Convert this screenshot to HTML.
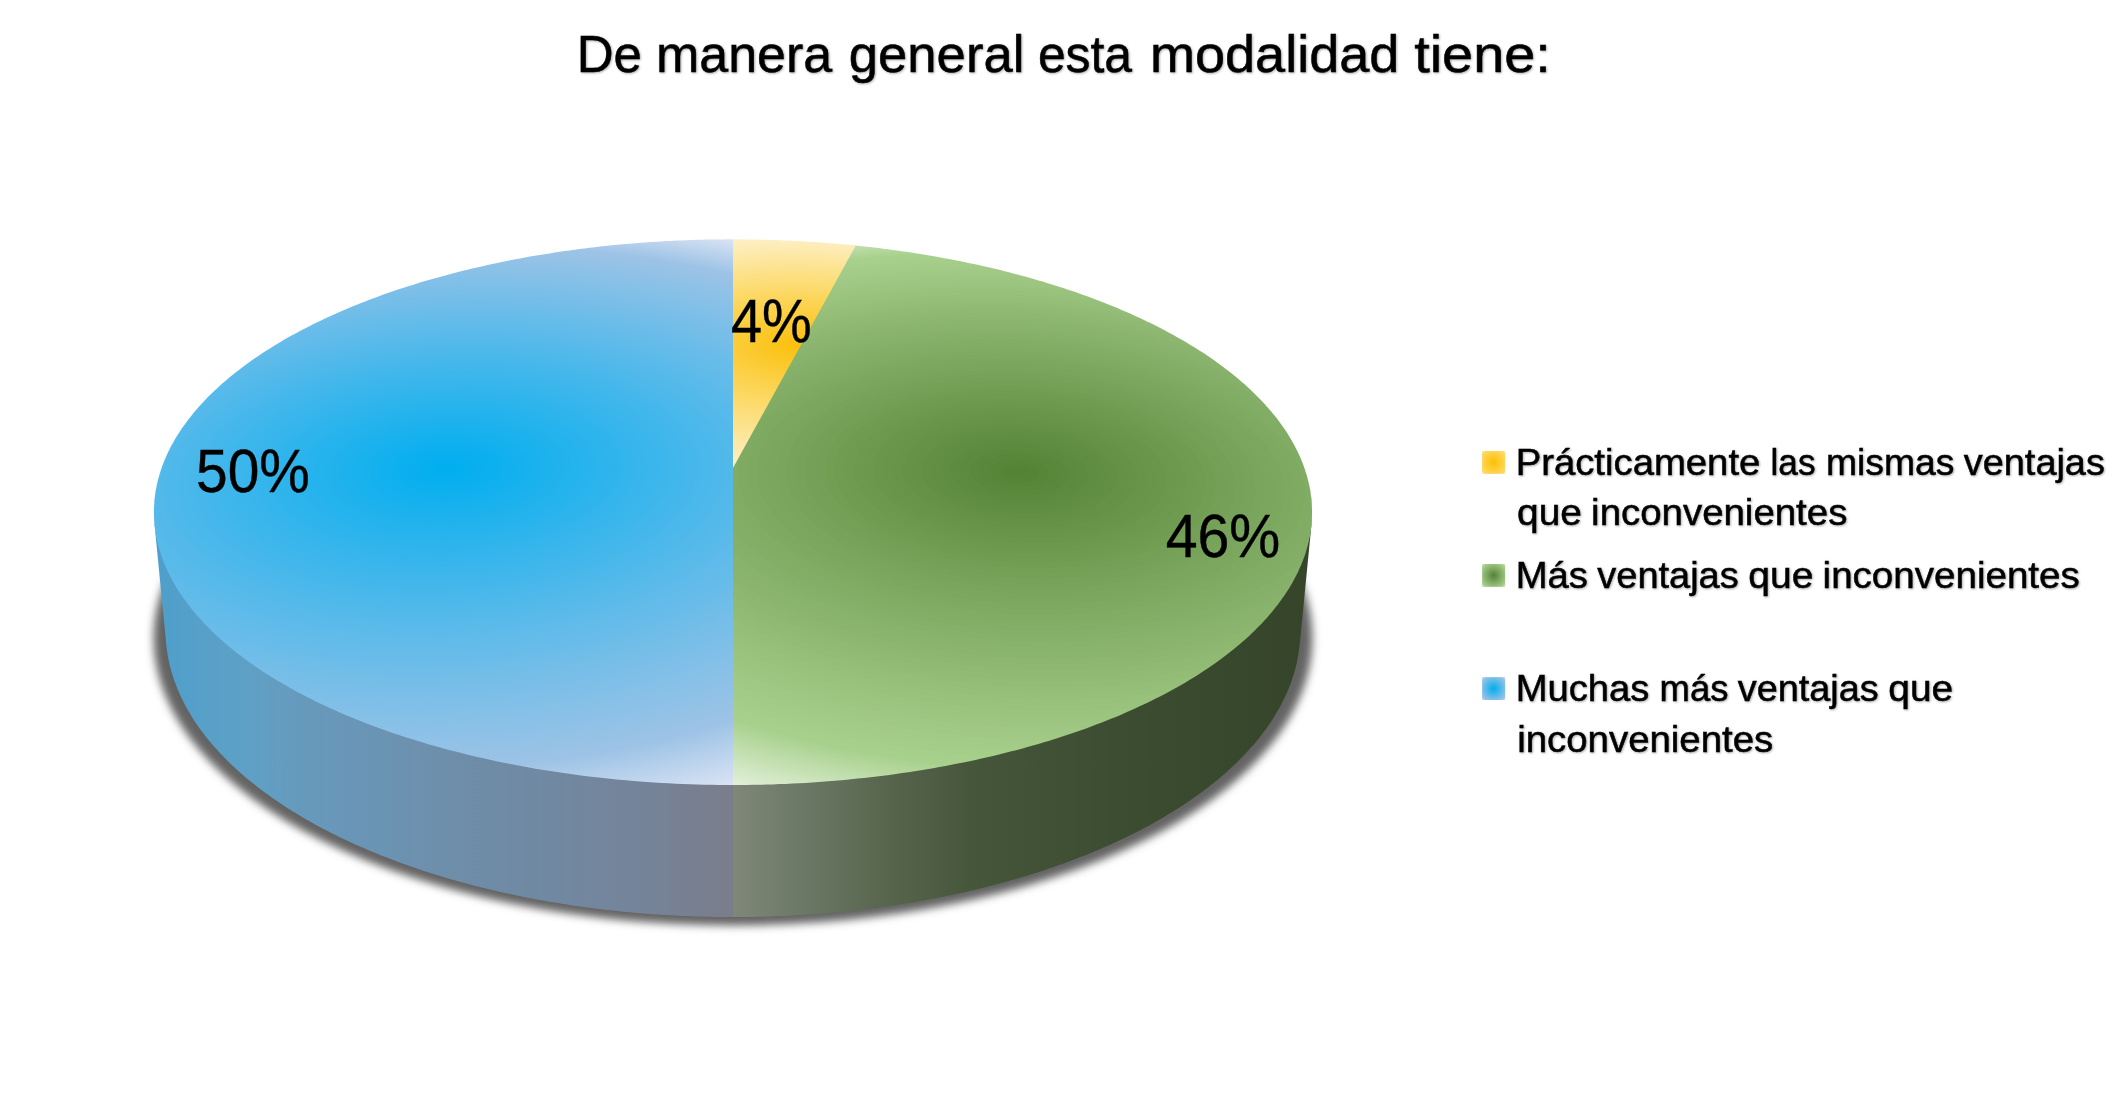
<!DOCTYPE html>
<html lang="es"><head><meta charset="utf-8"><title>De manera general esta modalidad tiene:</title>
<style>html,body{margin:0;padding:0;background:#fff}body{width:2127px;height:1111px;overflow:hidden}svg{display:block}</style>
</head><body>
<svg width="2127" height="1111" viewBox="0 0 2127 1111">
<defs>
<filter id="sb" x="-5%" y="-5%" width="110%" height="110%"><feGaussianBlur stdDeviation="4"/></filter>
<linearGradient id="bw" gradientUnits="userSpaceOnUse" x1="154" y1="0" x2="733" y2="0"><stop offset="0.0000" stop-color="#4d9fcc"/><stop offset="0.0794" stop-color="#56a0c9"/><stop offset="0.1658" stop-color="#5fa0c5"/><stop offset="0.2522" stop-color="#669abd"/><stop offset="0.3385" stop-color="#6996b7"/><stop offset="0.4249" stop-color="#6c92b1"/><stop offset="0.5112" stop-color="#6e8eaa"/><stop offset="0.5976" stop-color="#6f8ba6"/><stop offset="0.6839" stop-color="#7188a1"/><stop offset="0.7703" stop-color="#73869d"/><stop offset="0.8566" stop-color="#758398"/><stop offset="0.9430" stop-color="#787f8f"/><stop offset="1.0000" stop-color="#7a7e8b"/></linearGradient>
<linearGradient id="gw" gradientUnits="userSpaceOnUse" x1="733" y1="0" x2="1312" y2="0"><stop offset="0.0000" stop-color="#7f8878"/><stop offset="0.1313" stop-color="#6a7764"/><stop offset="0.2850" stop-color="#55634a"/><stop offset="0.4128" stop-color="#46563b"/><stop offset="0.5423" stop-color="#415136"/><stop offset="0.6960" stop-color="#3c4c31"/><stop offset="0.8584" stop-color="#38482c"/><stop offset="1.0000" stop-color="#36452a"/></linearGradient>
<mask id="hull" maskUnits="userSpaceOnUse" x="100" y="200" width="1300" height="760"><path fill="#fff" d="M166.4 645.4 L154.6 525.2 L154.4 522.7 L154.2 520.3 L154.1 517.9 L154 515.5 L154 513.1 L154 510.6 L154 508.2 L154.1 505.8 L154.3 503.4 L154.4 501 L154.7 498.6 L155 496.3 L155.3 493.9 L155.6 491.5 L156 489.1 L156.5 486.7 L157 484.4 L157.5 482 L158.1 479.7 L158.7 477.3 L159.4 475 L160.1 472.7 L160.8 470.3 L161.6 468 L162.4 465.7 L163.3 463.4 L164.2 461.1 L165.2 458.8 L166.1 456.5 L167.2 454.2 L168.2 451.9 L169.4 449.7 L170.5 447.4 L171.7 445.2 L172.9 442.9 L174.2 440.7 L175.5 438.5 L176.8 436.2 L178.2 434 L179.6 431.8 L181.1 429.6 L182.6 427.5 L184.1 425.3 L185.7 423.1 L187.3 421 L188.9 418.8 L190.6 416.7 L192.3 414.6 L194 412.4 L195.8 410.3 L197.6 408.2 L199.5 406.1 L201.3 404.1 L203.3 402 L205.2 399.9 L207.2 397.9 L209.2 395.9 L211.3 393.8 L213.3 391.8 L215.4 389.8 L217.6 387.8 L219.8 385.8 L222 383.9 L224.2 381.9 L226.5 379.9 L228.8 378 L231.1 376.1 L233.5 374.2 L235.9 372.3 L238.3 370.4 L240.8 368.5 L243.2 366.6 L245.7 364.7 L248.3 362.9 L250.9 361.1 L253.5 359.2 L256.1 357.4 L258.7 355.6 L261.4 353.8 L264.1 352.1 L266.8 350.3 L269.6 348.6 L272.4 346.8 L275.2 345.1 L278 343.4 L280.9 341.7 L283.8 340 L286.7 338.3 L289.6 336.7 L292.6 335 L295.6 333.4 L298.6 331.8 L301.6 330.1 L304.7 328.5 L307.8 327 L310.9 325.4 L314 323.8 L317.2 322.3 L320.3 320.8 L323.5 319.2 L326.7 317.7 L330 316.2 L333.2 314.8 L336.5 313.3 L339.8 311.9 L343.2 310.4 L346.5 309 L349.9 307.6 L353.2 306.2 L356.6 304.8 L360.1 303.4 L363.5 302.1 L367 300.7 L370.4 299.4 L373.9 298.1 L377.5 296.8 L381 295.5 L384.5 294.2 L388.1 293 L391.7 291.7 L395.3 290.5 L398.9 289.3 L402.6 288.1 L406.2 286.9 L409.9 285.7 L413.6 284.6 L417.3 283.4 L421 282.3 L424.7 281.2 L428.5 280.1 L432.2 279 L436 277.9 L439.8 276.9 L443.6 275.8 L447.4 274.8 L451.3 273.8 L455.1 272.8 L459 271.8 L462.9 270.8 L466.7 269.9 L470.6 268.9 L474.6 268 L478.5 267.1 L482.4 266.2 L486.4 265.3 L490.3 264.4 L494.3 263.6 L498.3 262.7 L502.3 261.9 L506.3 261.1 L510.3 260.3 L514.3 259.5 L518.4 258.7 L522.4 258 L526.5 257.3 L530.5 256.5 L534.6 255.8 L538.7 255.1 L542.8 254.5 L546.9 253.8 L551 253.1 L555.1 252.5 L559.2 251.9 L563.4 251.3 L567.5 250.7 L571.7 250.1 L575.8 249.6 L580 249 L584.2 248.5 L588.3 248 L592.5 247.5 L596.7 247 L600.9 246.5 L605.1 246 L609.3 245.6 L613.5 245.2 L617.7 244.8 L622 244.4 L626.2 244 L630.4 243.6 L634.7 243.3 L638.9 242.9 L643.2 242.6 L647.4 242.3 L651.7 242 L655.9 241.7 L660.2 241.5 L664.5 241.2 L668.7 241 L673 240.8 L677.3 240.6 L681.6 240.4 L685.8 240.2 L690.1 240.1 L694.4 239.9 L698.7 239.8 L703 239.7 L707.3 239.6 L711.5 239.5 L715.8 239.4 L720.1 239.4 L724.4 239.3 L728.7 239.3 L733 239.3 L737.3 239.3 L741.6 239.3 L745.9 239.4 L750.2 239.4 L754.5 239.5 L758.7 239.6 L763 239.7 L767.3 239.8 L771.6 239.9 L775.9 240.1 L780.2 240.2 L784.4 240.4 L788.7 240.6 L793 240.8 L797.3 241 L801.5 241.2 L805.8 241.5 L810.1 241.7 L814.3 242 L818.6 242.3 L822.8 242.6 L827.1 242.9 L831.3 243.3 L835.6 243.6 L839.8 244 L844 244.4 L848.3 244.8 L852.5 245.2 L856.7 245.6 L860.9 246 L865.1 246.5 L869.3 247 L873.5 247.5 L877.7 248 L881.8 248.5 L886 249 L890.2 249.6 L894.3 250.1 L898.5 250.7 L902.6 251.3 L906.8 251.9 L910.9 252.5 L915 253.1 L919.1 253.8 L923.2 254.5 L927.3 255.1 L931.4 255.8 L935.5 256.5 L939.5 257.3 L943.6 258 L947.6 258.7 L951.7 259.5 L955.7 260.3 L959.7 261.1 L963.7 261.9 L967.7 262.7 L971.7 263.6 L975.7 264.4 L979.6 265.3 L983.6 266.2 L987.5 267.1 L991.4 268 L995.4 268.9 L999.3 269.9 L1003.1 270.8 L1007 271.8 L1010.9 272.8 L1014.7 273.8 L1018.6 274.8 L1022.4 275.8 L1026.2 276.9 L1030 277.9 L1033.8 279 L1037.5 280.1 L1041.3 281.2 L1045 282.3 L1048.7 283.4 L1052.4 284.6 L1056.1 285.7 L1059.8 286.9 L1063.4 288.1 L1067.1 289.3 L1070.7 290.5 L1074.3 291.7 L1077.9 293 L1081.5 294.2 L1085 295.5 L1088.5 296.8 L1092.1 298.1 L1095.6 299.4 L1099 300.7 L1102.5 302.1 L1105.9 303.4 L1109.4 304.8 L1112.8 306.2 L1116.1 307.6 L1119.5 309 L1122.8 310.4 L1126.2 311.9 L1129.5 313.3 L1132.8 314.8 L1136 316.2 L1139.3 317.7 L1142.5 319.2 L1145.7 320.8 L1148.8 322.3 L1152 323.8 L1155.1 325.4 L1158.2 327 L1161.3 328.5 L1164.4 330.1 L1167.4 331.8 L1170.4 333.4 L1173.4 335 L1176.4 336.7 L1179.3 338.3 L1182.2 340 L1185.1 341.7 L1188 343.4 L1190.8 345.1 L1193.6 346.8 L1196.4 348.6 L1199.2 350.3 L1201.9 352.1 L1204.6 353.8 L1207.3 355.6 L1209.9 357.4 L1212.5 359.2 L1215.1 361.1 L1217.7 362.9 L1220.3 364.7 L1222.8 366.6 L1225.2 368.5 L1227.7 370.4 L1230.1 372.3 L1232.5 374.2 L1234.9 376.1 L1237.2 378 L1239.5 379.9 L1241.8 381.9 L1244 383.9 L1246.2 385.8 L1248.4 387.8 L1250.6 389.8 L1252.7 391.8 L1254.7 393.8 L1256.8 395.9 L1258.8 397.9 L1260.8 399.9 L1262.7 402 L1264.7 404.1 L1266.5 406.1 L1268.4 408.2 L1270.2 410.3 L1272 412.4 L1273.7 414.6 L1275.4 416.7 L1277.1 418.8 L1278.7 421 L1280.3 423.1 L1281.9 425.3 L1283.4 427.5 L1284.9 429.6 L1286.4 431.8 L1287.8 434 L1289.2 436.2 L1290.5 438.5 L1291.8 440.7 L1293.1 442.9 L1294.3 445.2 L1295.5 447.4 L1296.6 449.7 L1297.8 451.9 L1298.8 454.2 L1299.9 456.5 L1300.8 458.8 L1301.8 461.1 L1302.7 463.4 L1303.6 465.7 L1304.4 468 L1305.2 470.3 L1305.9 472.7 L1306.6 475 L1307.3 477.3 L1307.9 479.7 L1308.5 482 L1309 484.4 L1309.5 486.7 L1310 489.1 L1310.4 491.5 L1310.7 493.9 L1311 496.3 L1311.3 498.6 L1311.6 501 L1311.7 503.4 L1311.9 505.8 L1312 508.2 L1312 510.6 L1312 513.1 L1312 515.5 L1311.9 517.9 L1311.8 520.3 L1311.6 522.7 L1311.4 525.2 L1299.6 645.4 L1299.3 647.9 L1299 650.5 L1298.6 653 L1298.2 655.6 L1297.7 658.1 L1297.2 660.7 L1296.7 663.3 L1296.1 665.8 L1295.4 668.4 L1294.7 670.9 L1294 673.5 L1293.2 676.1 L1292.3 678.6 L1291.5 681.2 L1290.5 683.7 L1289.5 686.3 L1288.5 688.9 L1287.4 691.4 L1286.3 694 L1285.2 696.5 L1283.9 699.1 L1282.7 701.6 L1281.4 704.2 L1280 706.7 L1278.6 709.3 L1277.1 711.8 L1275.6 714.3 L1274.1 716.9 L1272.5 719.4 L1270.8 721.9 L1269.1 724.4 L1267.4 726.9 L1265.6 729.5 L1263.7 732 L1261.8 734.5 L1259.9 736.9 L1257.9 739.4 L1255.8 741.9 L1253.8 744.4 L1251.6 746.8 L1249.4 749.3 L1247.2 751.8 L1244.9 754.2 L1242.6 756.6 L1240.2 759.1 L1237.8 761.5 L1235.3 763.9 L1232.8 766.3 L1230.2 768.7 L1227.6 771.1 L1224.9 773.4 L1222.2 775.8 L1219.4 778.2 L1216.6 780.5 L1213.7 782.8 L1210.8 785.1 L1207.9 787.4 L1204.8 789.7 L1201.8 792 L1198.7 794.3 L1195.5 796.6 L1192.4 798.8 L1189.1 801 L1185.8 803.3 L1182.5 805.5 L1179.1 807.7 L1175.7 809.8 L1172.2 812 L1168.7 814.1 L1165.1 816.3 L1161.5 818.4 L1157.9 820.5 L1154.2 822.6 L1150.5 824.7 L1146.7 826.7 L1142.9 828.7 L1139 830.8 L1135.1 832.8 L1131.1 834.8 L1127.1 836.7 L1123.1 838.7 L1119 840.6 L1114.9 842.5 L1110.7 844.4 L1106.5 846.3 L1102.3 848.1 L1098 850 L1093.7 851.8 L1089.3 853.6 L1084.9 855.4 L1080.4 857.1 L1076 858.8 L1071.4 860.6 L1066.9 862.2 L1062.3 863.9 L1057.7 865.6 L1053 867.2 L1048.3 868.8 L1043.6 870.4 L1038.8 871.9 L1034 873.5 L1029.2 875 L1024.3 876.5 L1019.4 877.9 L1014.4 879.4 L1009.5 880.8 L1004.5 882.2 L999.4 883.5 L994.4 884.9 L989.3 886.2 L984.2 887.5 L979 888.8 L973.8 890 L968.6 891.2 L963.4 892.4 L958.1 893.6 L952.9 894.7 L947.5 895.8 L942.2 896.9 L936.8 898 L931.5 899 L926.1 900 L920.6 901 L915.2 901.9 L909.7 902.8 L904.2 903.7 L898.7 904.6 L893.2 905.4 L887.6 906.2 L882 907 L876.5 907.8 L870.8 908.5 L865.2 909.2 L859.6 909.9 L853.9 910.5 L848.3 911.1 L842.6 911.7 L836.9 912.2 L831.2 912.8 L825.5 913.3 L819.8 913.7 L814 914.2 L808.3 914.6 L802.5 914.9 L796.8 915.3 L791 915.6 L785.2 915.9 L779.4 916.1 L773.6 916.3 L767.8 916.5 L762 916.7 L756.2 916.8 L750.4 916.9 L744.6 917 L738.8 917.1 L733 917.1 L727.2 917.1 L721.4 917 L715.6 916.9 L709.8 916.8 L704 916.7 L698.2 916.5 L692.4 916.3 L686.6 916.1 L680.8 915.9 L675 915.6 L669.2 915.3 L663.5 914.9 L657.7 914.6 L652 914.2 L646.2 913.7 L640.5 913.3 L634.8 912.8 L629.1 912.2 L623.4 911.7 L617.7 911.1 L612.1 910.5 L606.4 909.9 L600.8 909.2 L595.2 908.5 L589.5 907.8 L584 907 L578.4 906.2 L572.8 905.4 L567.3 904.6 L561.8 903.7 L556.3 902.8 L550.8 901.9 L545.4 901 L539.9 900 L534.5 899 L529.2 898 L523.8 896.9 L518.5 895.8 L513.1 894.7 L507.9 893.6 L502.6 892.4 L497.4 891.2 L492.2 890 L487 888.8 L481.8 887.5 L476.7 886.2 L471.6 884.9 L466.6 883.5 L461.5 882.2 L456.5 880.8 L451.6 879.4 L446.6 877.9 L441.7 876.5 L436.8 875 L432 873.5 L427.2 871.9 L422.4 870.4 L417.7 868.8 L413 867.2 L408.3 865.6 L403.7 863.9 L399.1 862.2 L394.6 860.6 L390 858.8 L385.6 857.1 L381.1 855.4 L376.7 853.6 L372.3 851.8 L368 850 L363.7 848.1 L359.5 846.3 L355.3 844.4 L351.1 842.5 L347 840.6 L342.9 838.7 L338.9 836.7 L334.9 834.8 L330.9 832.8 L327 830.8 L323.1 828.7 L319.3 826.7 L315.5 824.7 L311.8 822.6 L308.1 820.5 L304.5 818.4 L300.9 816.3 L297.3 814.1 L293.8 812 L290.3 809.8 L286.9 807.7 L283.5 805.5 L280.2 803.3 L276.9 801 L273.6 798.8 L270.5 796.6 L267.3 794.3 L264.2 792 L261.2 789.7 L258.1 787.4 L255.2 785.1 L252.3 782.8 L249.4 780.5 L246.6 778.2 L243.8 775.8 L241.1 773.4 L238.4 771.1 L235.8 768.7 L233.2 766.3 L230.7 763.9 L228.2 761.5 L225.8 759.1 L223.4 756.6 L221.1 754.2 L218.8 751.8 L216.6 749.3 L214.4 746.8 L212.2 744.4 L210.2 741.9 L208.1 739.4 L206.1 736.9 L204.2 734.5 L202.3 732 L200.4 729.5 L198.6 726.9 L196.9 724.4 L195.2 721.9 L193.5 719.4 L191.9 716.9 L190.4 714.3 L188.9 711.8 L187.4 709.3 L186 706.7 L184.6 704.2 L183.3 701.6 L182.1 699.1 L180.8 696.5 L179.7 694 L178.6 691.4 L177.5 688.9 L176.5 686.3 L175.5 683.7 L174.5 681.2 L173.7 678.6 L172.8 676.1 L172 673.5 L171.3 670.9 L170.6 668.4 L169.9 665.8 L169.3 663.3 L168.8 660.7 L168.3 658.1 L167.8 655.6 L167.4 653 L167 650.5 L166.7 647.9Z"/><path fill="#000" d="M1304.4 465.5 L1303.6 463.2 L1302.7 460.9 L1301.8 458.6 L1300.8 456.3 L1299.9 454 L1298.8 451.7 L1297.8 449.4 L1296.6 447.2 L1295.5 444.9 L1294.3 442.7 L1293.1 440.4 L1291.8 438.2 L1290.5 436 L1289.2 433.7 L1287.8 431.5 L1286.4 429.3 L1284.9 427.1 L1283.4 425 L1281.9 422.8 L1280.3 420.6 L1278.7 418.5 L1277.1 416.3 L1275.4 414.2 L1273.7 412.1 L1272 409.9 L1270.2 407.8 L1268.4 405.7 L1266.5 403.6 L1264.7 401.6 L1262.7 399.5 L1260.8 397.4 L1258.8 395.4 L1256.8 393.4 L1254.7 391.3 L1252.7 389.3 L1250.6 387.3 L1248.4 385.3 L1246.2 383.3 L1244 381.4 L1241.8 379.4 L1239.5 377.4 L1237.2 375.5 L1234.9 373.6 L1232.5 371.7 L1230.1 369.8 L1227.7 367.9 L1225.2 366 L1222.8 364.1 L1220.3 362.2 L1217.7 360.4 L1215.1 358.6 L1212.5 356.7 L1209.9 354.9 L1207.3 353.1 L1204.6 351.3 L1201.9 349.6 L1199.2 347.8 L1196.4 346.1 L1193.6 344.3 L1190.8 342.6 L1188 340.9 L1185.1 339.2 L1182.2 337.5 L1179.3 335.8 L1176.4 334.2 L1173.4 332.5 L1170.4 330.9 L1167.4 329.3 L1164.4 327.6 L1161.3 326 L1158.2 324.5 L1155.1 322.9 L1152 321.3 L1148.8 319.8 L1145.7 318.3 L1142.5 316.7 L1139.3 315.2 L1136 313.7 L1132.8 312.3 L1129.5 310.8 L1126.2 309.4 L1122.8 307.9 L1119.5 306.5 L1116.1 305.1 L1112.8 303.7 L1109.4 302.3 L1105.9 300.9 L1102.5 299.6 L1099 298.2 L1095.6 296.9 L1092.1 295.6 L1088.5 294.3 L1085 293 L1081.5 291.7 L1077.9 290.5 L1074.3 289.2 L1070.7 288 L1067.1 286.8 L1063.4 285.6 L1059.8 284.4 L1056.1 283.2 L1052.4 282.1 L1048.7 280.9 L1045 279.8 L1041.3 278.7 L1037.5 277.6 L1033.8 276.5 L1030 275.4 L1026.2 274.4 L1022.4 273.3 L1018.6 272.3 L1014.7 271.3 L1010.9 270.3 L1007 269.3 L1003.1 268.3 L999.3 267.4 L995.4 266.4 L991.4 265.5 L987.5 264.6 L983.6 263.7 L979.6 262.8 L975.7 261.9 L971.7 261.1 L967.7 260.2 L963.7 259.4 L959.7 258.6 L955.7 257.8 L951.7 257 L947.6 256.2 L943.6 255.5 L939.5 254.8 L935.5 254 L931.4 253.3 L927.3 252.6 L923.2 252 L919.1 251.3 L915 250.6 L910.9 250 L906.8 249.4 L902.6 248.8 L898.5 248.2 L894.3 247.6 L890.2 247.1 L886 246.5 L881.8 246 L877.7 245.5 L873.5 245 L869.3 244.5 L865.1 244 L860.9 243.5 L856.7 243.1 L852.5 242.7 L848.3 242.3 L844 241.9 L839.8 241.5 L835.6 241.1 L831.3 240.8 L827.1 240.4 L822.8 240.1 L818.6 239.8 L814.3 239.5 L810.1 239.2 L805.8 239 L801.5 238.7 L797.3 238.5 L793 238.3 L788.7 238.1 L784.4 237.9 L780.2 237.7 L775.9 237.6 L771.6 237.4 L767.3 237.3 L763 237.2 L758.7 237.1 L754.5 237 L750.2 236.9 L745.9 236.9 L741.6 236.8 L737.3 236.8 L733 236.8 L728.7 236.8 L724.4 236.8 L720.1 236.9 L715.8 236.9 L711.5 237 L707.3 237.1 L703 237.2 L698.7 237.3 L694.4 237.4 L690.1 237.6 L685.8 237.7 L681.6 237.9 L677.3 238.1 L673 238.3 L668.7 238.5 L664.5 238.7 L660.2 239 L655.9 239.2 L651.7 239.5 L647.4 239.8 L643.2 240.1 L638.9 240.4 L634.7 240.8 L630.4 241.1 L626.2 241.5 L622 241.9 L617.7 242.3 L613.5 242.7 L609.3 243.1 L605.1 243.5 L600.9 244 L596.7 244.5 L592.5 245 L588.3 245.5 L584.2 246 L580 246.5 L575.8 247.1 L571.7 247.6 L567.5 248.2 L563.4 248.8 L559.2 249.4 L555.1 250 L551 250.6 L546.9 251.3 L542.8 252 L538.7 252.6 L534.6 253.3 L530.5 254 L526.5 254.8 L522.4 255.5 L518.4 256.2 L514.3 257 L510.3 257.8 L506.3 258.6 L502.3 259.4 L498.3 260.2 L494.3 261.1 L490.3 261.9 L486.4 262.8 L482.4 263.7 L478.5 264.6 L474.6 265.5 L470.6 266.4 L466.7 267.4 L462.9 268.3 L459 269.3 L455.1 270.3 L451.3 271.3 L447.4 272.3 L443.6 273.3 L439.8 274.4 L436 275.4 L432.2 276.5 L428.5 277.6 L424.7 278.7 L421 279.8 L417.3 280.9 L413.6 282.1 L409.9 283.2 L406.2 284.4 L402.6 285.6 L398.9 286.8 L395.3 288 L391.7 289.2 L388.1 290.5 L384.5 291.7 L381 293 L377.5 294.3 L373.9 295.6 L370.4 296.9 L367 298.2 L363.5 299.6 L360.1 300.9 L356.6 302.3 L353.2 303.7 L349.9 305.1 L346.5 306.5 L343.2 307.9 L339.8 309.4 L336.5 310.8 L333.2 312.3 L330 313.7 L326.7 315.2 L323.5 316.7 L320.3 318.3 L317.2 319.8 L314 321.3 L310.9 322.9 L307.8 324.5 L304.7 326 L301.6 327.6 L298.6 329.3 L295.6 330.9 L292.6 332.5 L289.6 334.2 L286.7 335.8 L283.8 337.5 L280.9 339.2 L278 340.9 L275.2 342.6 L272.4 344.3 L269.6 346.1 L266.8 347.8 L264.1 349.6 L261.4 351.3 L258.7 353.1 L256.1 354.9 L253.5 356.7 L250.9 358.6 L248.3 360.4 L245.7 362.2 L243.2 364.1 L240.8 366 L238.3 367.9 L235.9 369.8 L233.5 371.7 L231.1 373.6 L228.8 375.5 L226.5 377.4 L224.2 379.4 L222 381.4 L219.8 383.3 L217.6 385.3 L215.4 387.3 L213.3 389.3 L211.3 391.3 L209.2 393.4 L207.2 395.4 L205.2 397.4 L203.3 399.5 L201.3 401.6 L199.5 403.6 L197.6 405.7 L195.8 407.8 L194 409.9 L192.3 412.1 L190.6 414.2 L188.9 416.3 L187.3 418.5 L185.7 420.6 L184.1 422.8 L182.6 425 L181.1 427.1 L179.6 429.3 L178.2 431.5 L176.8 433.7 L175.5 436 L174.2 438.2 L172.9 440.4 L171.7 442.7 L170.5 444.9 L169.4 447.2 L168.2 449.4 L167.2 451.7 L166.1 454 L165.2 456.3 L164.2 458.6 L163.3 460.9 L162.4 463.2 L161.6 465.5 L160.8 467.8 L160.1 470.2 L159.4 472.5 L158.7 474.8 L158.1 477.2 L157.5 479.5 L157 481.9 L156.5 484.2 L156 486.6 L155.6 489 L155.3 491.4 L155 493.8 L154.7 496.1 L154.4 498.5 L154.3 500.9 L154.1 503.3 L154 505.7 L154 508.1 L154 510.6 L154 513 L154.1 515.4 L154.2 517.8 L154.4 520.2 L154.6 522.7 L154.9 525.1 L155.2 527.5 L155.6 530 L156 532.4 L156.4 534.8 L156.9 537.3 L157.5 539.7 L158.1 542.2 L158.7 544.6 L159.4 547 L160.2 549.5 L161 551.9 L161.8 554.4 L162.7 556.8 L163.6 559.3 L164.6 561.7 L165.6 564.1 L166.7 566.6 L167.8 569 L169 571.5 L170.2 573.9 L171.5 576.3 L172.8 578.8 L174.2 581.2 L175.6 583.6 L177.1 586 L178.6 588.5 L180.2 590.9 L181.8 593.3 L183.5 595.7 L185.2 598.1 L187 600.5 L188.8 602.9 L190.7 605.3 L192.6 607.7 L194.6 610 L196.6 612.4 L198.7 614.8 L200.8 617.2 L203 619.5 L205.2 621.9 L207.5 624.2 L209.8 626.5 L212.2 628.9 L214.6 631.2 L217 633.5 L219.6 635.8 L222.1 638.1 L224.8 640.4 L227.4 642.7 L230.1 644.9 L232.9 647.2 L235.7 649.4 L238.6 651.7 L241.5 653.9 L244.5 656.1 L247.5 658.3 L250.5 660.5 L253.6 662.7 L256.8 664.9 L260 667 L263.3 669.2 L266.6 671.3 L269.9 673.4 L273.3 675.6 L276.7 677.7 L280.2 679.7 L283.8 681.8 L287.4 683.9 L291 685.9 L294.7 687.9 L298.4 689.9 L302.2 691.9 L306 693.9 L309.8 695.9 L313.7 697.8 L317.7 699.8 L321.7 701.7 L325.7 703.6 L329.8 705.5 L333.9 707.3 L338.1 709.2 L342.3 711 L346.5 712.8 L350.8 714.6 L355.2 716.4 L359.5 718.2 L364 719.9 L368.4 721.6 L372.9 723.3 L377.5 725 L382 726.7 L386.7 728.3 L391.3 729.9 L396 731.5 L400.7 733.1 L405.5 734.7 L410.3 736.2 L415.1 737.7 L420 739.2 L424.9 740.7 L429.9 742.1 L434.9 743.6 L439.9 745 L444.9 746.3 L450 747.7 L455.1 749 L460.3 750.3 L465.4 751.6 L470.7 752.9 L475.9 754.1 L481.2 755.3 L486.5 756.5 L491.8 757.7 L497.1 758.8 L502.5 760 L507.9 761 L513.4 762.1 L518.8 763.2 L524.3 764.2 L529.8 765.2 L535.3 766.1 L540.9 767.1 L546.5 768 L552.1 768.8 L557.7 769.7 L563.4 770.5 L569 771.3 L574.7 772.1 L580.4 772.9 L586.1 773.6 L591.9 774.3 L597.6 774.9 L603.4 775.6 L609.2 776.2 L615 776.8 L620.8 777.3 L626.6 777.9 L632.4 778.4 L638.3 778.8 L644.2 779.3 L650 779.7 L655.9 780.1 L661.8 780.4 L667.7 780.8 L673.6 781.1 L679.5 781.3 L685.5 781.6 L691.4 781.8 L697.3 782 L703.3 782.1 L709.2 782.3 L715.2 782.4 L721.1 782.4 L727.1 782.5 L733 782.5 L738.9 782.5 L744.9 782.4 L750.8 782.4 L756.8 782.3 L762.7 782.1 L768.7 782 L774.6 781.8 L780.5 781.6 L786.5 781.3 L792.4 781.1 L798.3 780.8 L804.2 780.4 L810.1 780.1 L816 779.7 L821.8 779.3 L827.7 778.8 L833.6 778.4 L839.4 777.9 L845.2 777.3 L851 776.8 L856.8 776.2 L862.6 775.6 L868.4 774.9 L874.1 774.3 L879.9 773.6 L885.6 772.9 L891.3 772.1 L897 771.3 L902.6 770.5 L908.3 769.7 L913.9 768.8 L919.5 768 L925.1 767.1 L930.7 766.1 L936.2 765.2 L941.7 764.2 L947.2 763.2 L952.6 762.1 L958.1 761 L963.5 760 L968.9 758.8 L974.2 757.7 L979.5 756.5 L984.8 755.3 L990.1 754.1 L995.3 752.9 L1000.6 751.6 L1005.7 750.3 L1010.9 749 L1016 747.7 L1021.1 746.3 L1026.1 745 L1031.1 743.6 L1036.1 742.1 L1041.1 740.7 L1046 739.2 L1050.9 737.7 L1055.7 736.2 L1060.5 734.7 L1065.3 733.1 L1070 731.5 L1074.7 729.9 L1079.3 728.3 L1084 726.7 L1088.5 725 L1093.1 723.3 L1097.6 721.6 L1102 719.9 L1106.5 718.2 L1110.8 716.4 L1115.2 714.6 L1119.5 712.8 L1123.7 711 L1127.9 709.2 L1132.1 707.3 L1136.2 705.5 L1140.3 703.6 L1144.3 701.7 L1148.3 699.8 L1152.3 697.8 L1156.2 695.9 L1160 693.9 L1163.8 691.9 L1167.6 689.9 L1171.3 687.9 L1175 685.9 L1178.6 683.9 L1182.2 681.8 L1185.8 679.7 L1189.3 677.7 L1192.7 675.6 L1196.1 673.4 L1199.4 671.3 L1202.7 669.2 L1206 667 L1209.2 664.9 L1212.4 662.7 L1215.5 660.5 L1218.5 658.3 L1221.5 656.1 L1224.5 653.9 L1227.4 651.7 L1230.3 649.4 L1233.1 647.2 L1235.9 644.9 L1238.6 642.7 L1241.2 640.4 L1243.9 638.1 L1246.4 635.8 L1249 633.5 L1251.4 631.2 L1253.8 628.9 L1256.2 626.5 L1258.5 624.2 L1260.8 621.9 L1263 619.5 L1265.2 617.2 L1267.3 614.8 L1269.4 612.4 L1271.4 610 L1273.4 607.7 L1275.3 605.3 L1277.2 602.9 L1279 600.5 L1280.8 598.1 L1282.5 595.7 L1284.2 593.3 L1285.8 590.9 L1287.4 588.5 L1288.9 586 L1290.4 583.6 L1291.8 581.2 L1293.2 578.8 L1294.5 576.3 L1295.8 573.9 L1297 571.5 L1298.2 569 L1299.3 566.6 L1300.4 564.1 L1301.4 561.7 L1302.4 559.3 L1303.3 556.8 L1304.2 554.4 L1305 551.9 L1305.8 549.5 L1306.6 547 L1307.3 544.6 L1307.9 542.2 L1308.5 539.7 L1309.1 537.3 L1309.6 534.8 L1310 532.4 L1310.4 530 L1310.8 527.5 L1311.1 525.1 L1311.4 522.7 L1311.6 520.2 L1311.8 517.8 L1311.9 515.4 L1312 513 L1312 510.6 L1312 508.1 L1312 505.7 L1311.9 503.3 L1311.7 500.9 L1311.6 498.5 L1311.3 496.1 L1311 493.8 L1310.7 491.4 L1310.4 489 L1310 486.6 L1309.5 484.2 L1309 481.9 L1308.5 479.5 L1307.9 477.2 L1307.3 474.8 L1306.6 472.5 L1305.9 470.2 L1305.2 467.8 L1304.4 465.5Z"/></mask>
<mask id="cy" maskUnits="userSpaceOnUse" x="100" y="200" width="1300" height="640"><path fill="#fff" d="M733 468 L733 239.3 L737.3 239.3 L741.5 239.3 L745.8 239.4 L750 239.4 L754.3 239.5 L758.6 239.6 L762.8 239.7 L767.1 239.8 L771.3 239.9 L775.6 240 L779.8 240.2 L784.1 240.4 L788.3 240.6 L792.6 240.8 L796.8 241 L801.1 241.2 L805.3 241.4 L809.5 241.7 L813.8 242 L818 242.3 L822.2 242.6 L826.4 242.9 L830.7 243.2 L834.9 243.6 L839.1 243.9 L843.3 244.3 L847.5 244.7 L851.7 245.1 L855.8 245.5Z"/></mask>
<mask id="cg" maskUnits="userSpaceOnUse" x="100" y="200" width="1300" height="640"><path fill="#fff" d="M732 468 L850.8 245 L855.5 245.5 L860.2 246 L864.8 246.5 L869.5 247 L874.2 247.5 L878.8 248.1 L883.4 248.7 L888.1 249.3 L892.7 249.9 L897.3 250.5 L901.9 251.2 L906.5 251.8 L911.1 252.5 L915.7 253.2 L920.3 254 L924.8 254.7 L929.4 255.5 L933.9 256.3 L938.4 257.1 L942.9 257.9 L947.4 258.7 L951.9 259.6 L956.4 260.4 L960.8 261.3 L965.3 262.2 L969.7 263.2 L974.1 264.1 L978.6 265.1 L982.9 266 L987.3 267 L991.7 268.1 L996 269.1 L1000.4 270.1 L1004.7 271.2 L1009 272.3 L1013.3 273.4 L1017.5 274.5 L1021.8 275.7 L1026 276.8 L1030.2 278 L1034.4 279.2 L1038.6 280.4 L1042.8 281.6 L1046.9 282.9 L1051 284.2 L1055.1 285.4 L1059.2 286.7 L1063.3 288.1 L1067.3 289.4 L1071.4 290.7 L1075.4 292.1 L1079.3 293.5 L1083.3 294.9 L1087.2 296.3 L1091.2 297.8 L1095 299.2 L1098.9 300.7 L1102.8 302.2 L1106.6 303.7 L1110.4 305.2 L1114.2 306.8 L1117.9 308.3 L1121.6 309.9 L1125.3 311.5 L1129 313.1 L1132.7 314.7 L1136.3 316.4 L1139.9 318 L1143.5 319.7 L1147 321.4 L1150.5 323.1 L1154 324.8 L1157.5 326.6 L1160.9 328.3 L1164.3 330.1 L1167.7 331.9 L1171 333.7 L1174.3 335.5 L1177.6 337.4 L1180.9 339.2 L1184.1 341.1 L1187.3 343 L1190.4 344.9 L1193.6 346.8 L1196.7 348.7 L1199.7 350.7 L1202.8 352.6 L1205.8 354.6 L1208.7 356.6 L1211.6 358.6 L1214.5 360.6 L1217.4 362.7 L1220.2 364.7 L1223 366.8 L1225.8 368.9 L1228.5 371 L1231.2 373.1 L1233.8 375.2 L1236.4 377.3 L1239 379.5 L1241.5 381.7 L1244 383.8 L1246.5 386 L1248.9 388.2 L1251.3 390.5 L1253.6 392.7 L1255.9 394.9 L1258.1 397.2 L1260.4 399.5 L1262.5 401.8 L1264.7 404.1 L1266.7 406.4 L1268.8 408.7 L1270.8 411 L1272.8 413.4 L1274.7 415.7 L1276.6 418.1 L1278.4 420.5 L1280.2 422.9 L1281.9 425.3 L1283.6 427.7 L1285.3 430.1 L1286.9 432.6 L1288.4 435 L1289.9 437.5 L1291.4 440 L1292.8 442.4 L1294.2 444.9 L1295.5 447.4 L1296.8 449.9 L1298 452.5 L1299.2 455 L1300.3 457.5 L1301.4 460.1 L1302.4 462.6 L1303.4 465.2 L1304.3 467.8 L1305.2 470.4 L1306 472.9 L1306.8 475.5 L1307.5 478.1 L1308.2 480.8 L1308.8 483.4 L1309.4 486 L1309.9 488.6 L1310.3 491.3 L1310.7 493.9 L1311.1 496.6 L1311.4 499.2 L1311.6 501.9 L1311.8 504.6 L1311.9 507.2 L1312 509.9 L1312 512.6 L1312 515.3 L1311.9 518 L1311.8 520.6 L1311.5 523.3 L1311.3 526 L1311 528.7 L1310.6 531.5 L1310.1 534.2 L1309.7 536.9 L1309.1 539.6 L1308.5 542.3 L1307.8 545 L1307.1 547.7 L1306.3 550.4 L1305.5 553.2 L1304.6 555.9 L1303.6 558.6 L1302.6 561.3 L1301.5 564 L1300.3 566.7 L1299.1 569.4 L1297.9 572.2 L1296.5 574.9 L1295.1 577.6 L1293.7 580.3 L1292.2 583 L1290.6 585.7 L1289 588.4 L1287.3 591.1 L1285.5 593.7 L1283.7 596.4 L1281.8 599.1 L1279.9 601.8 L1277.9 604.4 L1275.8 607.1 L1273.7 609.7 L1271.5 612.4 L1269.3 615 L1267 617.7 L1264.6 620.3 L1262.2 622.9 L1259.7 625.5 L1257.1 628.1 L1254.5 630.7 L1251.8 633.3 L1249.1 635.9 L1246.3 638.4 L1243.4 641 L1240.5 643.5 L1237.5 646 L1234.5 648.6 L1231.4 651.1 L1228.2 653.6 L1225 656 L1221.7 658.5 L1218.3 661 L1214.9 663.4 L1211.5 665.8 L1207.9 668.2 L1204.4 670.6 L1200.7 673 L1197 675.4 L1193.2 677.7 L1189.4 680.1 L1185.5 682.4 L1181.6 684.7 L1177.6 687 L1173.5 689.2 L1169.4 691.5 L1165.3 693.7 L1161 695.9 L1156.8 698.1 L1152.4 700.3 L1148 702.4 L1143.6 704.5 L1139.1 706.6 L1134.5 708.7 L1129.9 710.8 L1125.3 712.8 L1120.6 714.9 L1115.8 716.9 L1111 718.8 L1106.1 720.8 L1101.2 722.7 L1096.2 724.6 L1091.2 726.5 L1086.2 728.4 L1081 730.2 L1075.9 732 L1070.7 733.8 L1065.4 735.6 L1060.1 737.3 L1054.8 739 L1049.4 740.7 L1043.9 742.3 L1038.5 743.9 L1032.9 745.5 L1027.4 747.1 L1021.8 748.7 L1016.1 750.2 L1010.4 751.6 L1004.7 753.1 L999 754.5 L993.1 755.9 L987.3 757.3 L981.4 758.6 L975.5 759.9 L969.6 761.2 L963.6 762.4 L957.6 763.6 L951.5 764.8 L945.5 766 L939.4 767.1 L933.2 768.2 L927 769.2 L920.9 770.2 L914.6 771.2 L908.4 772.2 L902.1 773.1 L895.8 774 L889.5 774.9 L883.1 775.7 L876.8 776.5 L870.4 777.2 L864 777.9 L857.5 778.6 L851.1 779.3 L844.6 779.9 L838.2 780.5 L831.7 781 L825.1 781.5 L818.6 782 L812.1 782.4 L805.5 782.9 L799 783.2 L792.4 783.6 L785.8 783.9 L779.2 784.1 L772.6 784.4 L766 784.6 L759.4 784.7 L752.8 784.8 L746.2 784.9 L739.6 785 L733 785 L732 785Z"/></mask>
<mask id="cb" maskUnits="userSpaceOnUse" x="100" y="200" width="1300" height="640"><path fill="#fff" d="M733 239.3 L727.8 239.3 L722.7 239.4 L717.5 239.4 L712.3 239.5 L707.2 239.6 L702 239.7 L696.8 239.8 L691.7 240 L686.5 240.2 L681.4 240.4 L676.2 240.6 L671.1 240.9 L665.9 241.1 L660.8 241.4 L655.7 241.8 L650.5 242.1 L645.4 242.4 L640.3 242.8 L635.2 243.2 L630.1 243.7 L625 244.1 L619.9 244.6 L614.8 245.1 L609.7 245.6 L604.7 246.1 L599.6 246.6 L594.6 247.2 L589.5 247.8 L584.5 248.4 L579.5 249.1 L574.5 249.7 L569.5 250.4 L564.5 251.1 L559.5 251.8 L554.5 252.6 L549.6 253.4 L544.6 254.2 L539.7 255 L534.8 255.8 L529.9 256.6 L525 257.5 L520.1 258.4 L515.2 259.3 L510.4 260.3 L505.6 261.2 L500.7 262.2 L495.9 263.2 L491.2 264.2 L486.4 265.3 L481.6 266.4 L476.9 267.4 L472.2 268.6 L467.5 269.7 L462.8 270.8 L458.1 272 L453.5 273.2 L448.9 274.4 L444.3 275.7 L439.7 276.9 L435.1 278.2 L430.6 279.5 L426 280.8 L421.5 282.1 L417.1 283.5 L412.6 284.9 L408.2 286.3 L403.8 287.7 L399.4 289.1 L395 290.6 L390.7 292.1 L386.4 293.6 L382.1 295.1 L377.8 296.7 L373.6 298.2 L369.4 299.8 L365.2 301.4 L361.1 303 L356.9 304.7 L352.8 306.3 L348.8 308 L344.7 309.7 L340.7 311.5 L336.7 313.2 L332.8 315 L328.9 316.8 L325 318.6 L321.1 320.4 L317.3 322.2 L313.5 324.1 L309.8 326 L306 327.9 L302.3 329.8 L298.7 331.7 L295.1 333.7 L291.5 335.6 L287.9 337.6 L284.4 339.6 L280.9 341.7 L277.5 343.7 L274.1 345.8 L270.7 347.9 L267.4 350 L264.1 352.1 L260.8 354.2 L257.6 356.4 L254.4 358.6 L251.3 360.8 L248.2 363 L245.1 365.2 L242.1 367.4 L239.2 369.7 L236.2 372 L233.4 374.3 L230.5 376.6 L227.7 378.9 L225 381.2 L222.3 383.6 L219.6 386 L217 388.4 L214.4 390.8 L211.9 393.2 L209.4 395.6 L207 398.1 L204.6 400.5 L202.3 403 L200 405.5 L197.8 408 L195.6 410.6 L193.5 413.1 L191.4 415.7 L189.4 418.2 L187.4 420.8 L185.5 423.4 L183.6 426 L181.8 428.6 L180 431.3 L178.3 433.9 L176.6 436.6 L175 439.3 L173.5 441.9 L172 444.6 L170.5 447.3 L169.2 450.1 L167.8 452.8 L166.6 455.5 L165.4 458.3 L164.2 461.1 L163.1 463.8 L162.1 466.6 L161.1 469.4 L160.2 472.2 L159.4 475 L158.6 477.8 L157.8 480.7 L157.2 483.5 L156.6 486.3 L156 489.2 L155.5 492 L155.1 494.9 L154.8 497.8 L154.5 500.7 L154.3 503.5 L154.1 506.4 L154 509.3 L154 512.2 L154 515.1 L154.1 518.1 L154.3 521 L154.5 523.9 L154.8 526.8 L155.2 529.8 L155.6 532.7 L156.1 535.6 L156.7 538.6 L157.3 541.5 L158 544.4 L158.8 547.4 L159.7 550.3 L160.6 553.3 L161.6 556.2 L162.6 559.1 L163.7 562.1 L164.9 565 L166.2 568 L167.5 570.9 L169 573.8 L170.4 576.8 L172 579.7 L173.6 582.6 L175.3 585.5 L177.1 588.5 L178.9 591.4 L180.8 594.3 L182.8 597.2 L184.9 600.1 L187 603 L189.2 605.8 L191.4 608.7 L193.8 611.6 L196.2 614.5 L198.7 617.3 L201.3 620.1 L203.9 623 L206.6 625.8 L209.4 628.6 L212.2 631.4 L215.1 634.2 L218.1 637 L221.2 639.8 L224.3 642.5 L227.5 645.3 L230.8 648 L234.2 650.7 L237.6 653.4 L241.1 656.1 L244.7 658.8 L248.3 661.4 L252 664.1 L255.8 666.7 L259.6 669.3 L263.5 671.9 L267.5 674.4 L271.6 677 L275.7 679.5 L279.9 682 L284.2 684.5 L288.5 687 L292.9 689.5 L297.3 691.9 L301.9 694.3 L306.5 696.7 L311.1 699 L315.8 701.4 L320.6 703.7 L325.5 706 L330.4 708.3 L335.4 710.5 L340.4 712.7 L345.5 714.9 L350.7 717.1 L355.9 719.2 L361.2 721.3 L366.5 723.4 L371.9 725.5 L377.4 727.5 L382.9 729.5 L388.5 731.4 L394.1 733.4 L399.8 735.3 L405.5 737.2 L411.3 739 L417.1 740.8 L423 742.6 L429 744.4 L435 746.1 L441 747.8 L447.1 749.4 L453.3 751 L459.4 752.6 L465.7 754.2 L471.9 755.7 L478.3 757.2 L484.6 758.6 L491 760 L497.5 761.4 L504 762.8 L510.5 764.1 L517 765.3 L523.6 766.5 L530.3 767.7 L536.9 768.9 L543.6 770 L550.4 771.1 L557.1 772.1 L563.9 773.1 L570.8 774.1 L577.6 775 L584.5 775.9 L591.4 776.7 L598.3 777.5 L605.3 778.3 L612.2 779 L619.2 779.7 L626.3 780.3 L633.3 780.9 L640.3 781.5 L647.4 782 L654.5 782.5 L661.6 782.9 L668.7 783.3 L675.8 783.7 L682.9 784 L690.1 784.3 L697.2 784.5 L704.4 784.7 L711.5 784.8 L718.7 784.9 L725.8 785 L733 785Z"/></mask>
<filter id="ts" x="-5%" y="-30%" width="110%" height="160%"><feDropShadow dx="0.9" dy="0.9" stdDeviation="0.9" flood-color="#000" flood-opacity="0.34"/></filter>
<radialGradient id="sy" cx="0.5" cy="0.5" r="0.7071"><stop offset="0" stop-color="#fcc000"/><stop offset="0.86" stop-color="#ffd966"/><stop offset="1" stop-color="#fff2cc"/></radialGradient>
<radialGradient id="sg" cx="0.5" cy="0.5" r="0.7071"><stop offset="0" stop-color="#548235"/><stop offset="0.86" stop-color="#a9d18e"/><stop offset="1" stop-color="#e2f0d9"/></radialGradient>
<radialGradient id="sbl" cx="0.5" cy="0.5" r="0.7071"><stop offset="0" stop-color="#00aeef"/><stop offset="0.86" stop-color="#9dc3e6"/><stop offset="1" stop-color="#dae3f3"/></radialGradient>
</defs>
<ellipse cx="733" cy="638" rx="579.5" ry="287.5" fill="#646464" filter="url(#sb)"/>
<g mask="url(#hull)"><rect x="100" y="200" width="633" height="760" fill="url(#bw)"/><rect x="733" y="200" width="640" height="760" fill="url(#gw)"/></g>
<g mask="url(#cg)">
<rect x="100" y="200" width="1300" height="640" fill="#e1f0d8"/>
<ellipse cx="1028.9" cy="526.4" rx="643.7" ry="302.3" fill="#e0efd7" transform="rotate(2.85 1028.9 526.4)"/>
<ellipse cx="1028.8" cy="526.1" rx="641.7" ry="301.4" fill="#dfeed5" transform="rotate(2.85 1028.8 526.1)"/>
<ellipse cx="1028.7" cy="525.7" rx="639.7" ry="300.4" fill="#deeed3" transform="rotate(2.85 1028.7 525.7)"/>
<ellipse cx="1028.7" cy="525.4" rx="637.7" ry="299.4" fill="#ddedd2" transform="rotate(2.85 1028.7 525.4)"/>
<ellipse cx="1028.6" cy="525.1" rx="635.7" ry="298.5" fill="#dbecd0" transform="rotate(2.85 1028.6 525.1)"/>
<ellipse cx="1028.6" cy="524.8" rx="633.7" ry="297.5" fill="#daeccf" transform="rotate(2.85 1028.6 524.8)"/>
<ellipse cx="1028.5" cy="524.4" rx="631.7" ry="296.6" fill="#d9ebcd" transform="rotate(2.85 1028.5 524.4)"/>
<ellipse cx="1028.5" cy="524.1" rx="629.8" ry="295.6" fill="#d8eacb" transform="rotate(2.85 1028.5 524.1)"/>
<ellipse cx="1028.4" cy="523.8" rx="627.8" ry="294.6" fill="#d6eaca" transform="rotate(2.85 1028.4 523.8)"/>
<ellipse cx="1028.3" cy="523.4" rx="625.8" ry="293.7" fill="#d5e9c8" transform="rotate(2.85 1028.3 523.4)"/>
<ellipse cx="1028.3" cy="523.1" rx="623.8" ry="292.7" fill="#d4e8c7" transform="rotate(2.84 1028.3 523.1)"/>
<ellipse cx="1028.2" cy="522.8" rx="621.8" ry="291.8" fill="#d3e8c5" transform="rotate(2.84 1028.2 522.8)"/>
<ellipse cx="1028.2" cy="522.5" rx="619.8" ry="290.8" fill="#d2e7c3" transform="rotate(2.84 1028.2 522.5)"/>
<ellipse cx="1028.1" cy="522.2" rx="617.9" ry="289.9" fill="#d0e6c2" transform="rotate(2.84 1028.1 522.2)"/>
<ellipse cx="1028.1" cy="521.8" rx="615.9" ry="288.9" fill="#cfe6c0" transform="rotate(2.84 1028.1 521.8)"/>
<ellipse cx="1028" cy="521.5" rx="613.9" ry="287.9" fill="#cee5bf" transform="rotate(2.84 1028 521.5)"/>
<ellipse cx="1028" cy="521.2" rx="611.9" ry="287" fill="#cde4bd" transform="rotate(2.84 1028 521.2)"/>
<ellipse cx="1027.9" cy="520.9" rx="610" ry="286" fill="#cce4bb" transform="rotate(2.84 1027.9 520.9)"/>
<ellipse cx="1027.8" cy="520.6" rx="608" ry="285.1" fill="#cae3ba" transform="rotate(2.84 1027.8 520.6)"/>
<ellipse cx="1027.8" cy="520.3" rx="606" ry="284.1" fill="#c9e2b8" transform="rotate(2.84 1027.8 520.3)"/>
<ellipse cx="1027.7" cy="519.9" rx="604" ry="283.2" fill="#c8e2b7" transform="rotate(2.84 1027.7 519.9)"/>
<ellipse cx="1027.7" cy="519.6" rx="602.1" ry="282.2" fill="#c7e1b5" transform="rotate(2.84 1027.7 519.6)"/>
<ellipse cx="1027.6" cy="519.3" rx="600.1" ry="281.3" fill="#c5e0b3" transform="rotate(2.84 1027.6 519.3)"/>
<ellipse cx="1027.6" cy="519" rx="598.1" ry="280.3" fill="#c4e0b2" transform="rotate(2.84 1027.6 519)"/>
<ellipse cx="1027.5" cy="518.7" rx="596.1" ry="279.4" fill="#c3dfb0" transform="rotate(2.84 1027.5 518.7)"/>
<ellipse cx="1027.5" cy="518.4" rx="594.2" ry="278.4" fill="#c2dfaf" transform="rotate(2.83 1027.5 518.4)"/>
<ellipse cx="1027.4" cy="518.1" rx="592.2" ry="277.5" fill="#c1dead" transform="rotate(2.83 1027.4 518.1)"/>
<ellipse cx="1027.4" cy="517.8" rx="590.2" ry="276.5" fill="#bfddac" transform="rotate(2.83 1027.4 517.8)"/>
<ellipse cx="1027.3" cy="517.5" rx="588.2" ry="275.6" fill="#beddaa" transform="rotate(2.83 1027.3 517.5)"/>
<ellipse cx="1027.3" cy="517.2" rx="586.3" ry="274.6" fill="#bddca8" transform="rotate(2.83 1027.3 517.2)"/>
<ellipse cx="1027.2" cy="516.9" rx="584.3" ry="273.7" fill="#bcdba7" transform="rotate(2.83 1027.2 516.9)"/>
<ellipse cx="1027.2" cy="516.6" rx="582.3" ry="272.7" fill="#bbdba5" transform="rotate(2.83 1027.2 516.6)"/>
<ellipse cx="1027.1" cy="516.3" rx="580.4" ry="271.8" fill="#b9daa4" transform="rotate(2.83 1027.1 516.3)"/>
<ellipse cx="1027" cy="516" rx="578.4" ry="270.9" fill="#b8d9a2" transform="rotate(2.83 1027 516)"/>
<ellipse cx="1027" cy="515.7" rx="576.4" ry="269.9" fill="#b7d9a0" transform="rotate(2.83 1027 515.7)"/>
<ellipse cx="1026.9" cy="515.4" rx="574.5" ry="269" fill="#b6d89f" transform="rotate(2.83 1026.9 515.4)"/>
<ellipse cx="1026.9" cy="515.1" rx="572.5" ry="268" fill="#b5d79d" transform="rotate(2.83 1026.9 515.1)"/>
<ellipse cx="1026.8" cy="514.8" rx="570.5" ry="267.1" fill="#b3d79c" transform="rotate(2.83 1026.8 514.8)"/>
<ellipse cx="1026.8" cy="514.5" rx="568.6" ry="266.1" fill="#b2d69a" transform="rotate(2.83 1026.8 514.5)"/>
<ellipse cx="1026.7" cy="514.2" rx="566.6" ry="265.2" fill="#b1d598" transform="rotate(2.83 1026.7 514.2)"/>
<ellipse cx="1026.7" cy="513.9" rx="564.6" ry="264.2" fill="#b0d597" transform="rotate(2.83 1026.7 513.9)"/>
<ellipse cx="1026.6" cy="513.6" rx="562.7" ry="263.3" fill="#aed495" transform="rotate(2.82 1026.6 513.6)"/>
<ellipse cx="1026.6" cy="513.3" rx="560.7" ry="262.4" fill="#add394" transform="rotate(2.82 1026.6 513.3)"/>
<ellipse cx="1026.5" cy="513" rx="558.7" ry="261.4" fill="#acd392" transform="rotate(2.82 1026.5 513)"/>
<ellipse cx="1026.5" cy="512.8" rx="556.8" ry="260.5" fill="#abd290" transform="rotate(2.82 1026.5 512.8)"/>
<ellipse cx="1026.4" cy="512.5" rx="554.8" ry="259.5" fill="#aad18f" transform="rotate(2.82 1026.4 512.5)"/>
<ellipse cx="1026.4" cy="512.2" rx="552.8" ry="258.6" fill="#a8d08d" transform="rotate(2.82 1026.4 512.2)"/>
<ellipse cx="1026.1" cy="510.7" rx="542.7" ry="253.8" fill="#a7cf8c" transform="rotate(2.82 1026.1 510.7)"/>
<ellipse cx="1025.9" cy="509.3" rx="532.6" ry="248.9" fill="#a5cd8a" transform="rotate(2.82 1025.9 509.3)"/>
<ellipse cx="1025.6" cy="507.9" rx="522.6" ry="244.1" fill="#a4cc88" transform="rotate(2.81 1025.6 507.9)"/>
<ellipse cx="1025.4" cy="506.6" rx="512.5" ry="239.3" fill="#a2cb87" transform="rotate(2.81 1025.4 506.6)"/>
<ellipse cx="1025.2" cy="505.2" rx="502.4" ry="234.5" fill="#a1c985" transform="rotate(2.81 1025.2 505.2)"/>
<ellipse cx="1025" cy="503.9" rx="492.4" ry="229.8" fill="#9fc884" transform="rotate(2.80 1025 503.9)"/>
<ellipse cx="1024.7" cy="502.6" rx="482.3" ry="225" fill="#9ec682" transform="rotate(2.80 1024.7 502.6)"/>
<ellipse cx="1024.5" cy="501.4" rx="472.3" ry="220.2" fill="#9cc580" transform="rotate(2.80 1024.5 501.4)"/>
<ellipse cx="1024.3" cy="500.2" rx="462.3" ry="215.5" fill="#9bc47f" transform="rotate(2.80 1024.3 500.2)"/>
<ellipse cx="1024.1" cy="499" rx="452.3" ry="210.8" fill="#99c27d" transform="rotate(2.79 1024.1 499)"/>
<ellipse cx="1023.9" cy="497.8" rx="442.3" ry="206" fill="#98c17c" transform="rotate(2.79 1023.9 497.8)"/>
<ellipse cx="1023.7" cy="496.7" rx="432.3" ry="201.3" fill="#96bf7a" transform="rotate(2.79 1023.7 496.7)"/>
<ellipse cx="1023.5" cy="495.5" rx="422.4" ry="196.6" fill="#95be79" transform="rotate(2.79 1023.5 495.5)"/>
<ellipse cx="1023.3" cy="494.5" rx="412.4" ry="191.9" fill="#93bd77" transform="rotate(2.78 1023.3 494.5)"/>
<ellipse cx="1023.1" cy="493.4" rx="402.5" ry="187.2" fill="#91bb75" transform="rotate(2.78 1023.1 493.4)"/>
<ellipse cx="1022.9" cy="492.4" rx="392.5" ry="182.6" fill="#90ba74" transform="rotate(2.78 1022.9 492.4)"/>
<ellipse cx="1022.8" cy="491.3" rx="382.6" ry="177.9" fill="#8eb872" transform="rotate(2.78 1022.8 491.3)"/>
<ellipse cx="1022.6" cy="490.4" rx="372.7" ry="173.2" fill="#8db771" transform="rotate(2.78 1022.6 490.4)"/>
<ellipse cx="1022.4" cy="489.4" rx="362.8" ry="168.6" fill="#8bb56f" transform="rotate(2.77 1022.4 489.4)"/>
<ellipse cx="1022.3" cy="488.5" rx="352.9" ry="163.9" fill="#8ab46d" transform="rotate(2.77 1022.3 488.5)"/>
<ellipse cx="1022.1" cy="487.6" rx="343" ry="159.3" fill="#88b36c" transform="rotate(2.77 1022.1 487.6)"/>
<ellipse cx="1022" cy="486.7" rx="333.1" ry="154.6" fill="#87b16a" transform="rotate(2.77 1022 486.7)"/>
<ellipse cx="1021.8" cy="485.9" rx="323.2" ry="150" fill="#85b069" transform="rotate(2.77 1021.8 485.9)"/>
<ellipse cx="1021.7" cy="485" rx="313.3" ry="145.4" fill="#84ae67" transform="rotate(2.76 1021.7 485)"/>
<ellipse cx="1021.5" cy="484.2" rx="303.5" ry="140.8" fill="#82ad65" transform="rotate(2.76 1021.5 484.2)"/>
<ellipse cx="1021.4" cy="483.5" rx="293.6" ry="136.2" fill="#81ac64" transform="rotate(2.76 1021.4 483.5)"/>
<ellipse cx="1021.3" cy="482.7" rx="283.8" ry="131.6" fill="#7faa62" transform="rotate(2.76 1021.3 482.7)"/>
<ellipse cx="1021.1" cy="482" rx="273.9" ry="127" fill="#7ea961" transform="rotate(2.76 1021.1 482)"/>
<ellipse cx="1021" cy="481.3" rx="264.1" ry="122.4" fill="#7ca75f" transform="rotate(2.76 1021 481.3)"/>
<ellipse cx="1020.9" cy="480.6" rx="254.2" ry="117.8" fill="#7ba65e" transform="rotate(2.75 1020.9 480.6)"/>
<ellipse cx="1020.8" cy="480" rx="244.4" ry="113.3" fill="#79a55c" transform="rotate(2.75 1020.8 480)"/>
<ellipse cx="1020.7" cy="479.4" rx="234.6" ry="108.7" fill="#78a35a" transform="rotate(2.75 1020.7 479.4)"/>
<ellipse cx="1020.6" cy="478.8" rx="224.8" ry="104.1" fill="#76a259" transform="rotate(2.75 1020.6 478.8)"/>
<ellipse cx="1020.5" cy="478.2" rx="215" ry="99.6" fill="#75a057" transform="rotate(2.75 1020.5 478.2)"/>
<ellipse cx="1020.4" cy="477.7" rx="205.2" ry="95" fill="#739f56" transform="rotate(2.75 1020.4 477.7)"/>
<ellipse cx="1020.3" cy="477.2" rx="195.4" ry="90.5" fill="#729e54" transform="rotate(2.75 1020.3 477.2)"/>
<ellipse cx="1020.2" cy="476.7" rx="185.6" ry="85.9" fill="#709c52" transform="rotate(2.75 1020.2 476.7)"/>
<ellipse cx="1020.1" cy="476.2" rx="175.8" ry="81.4" fill="#6f9b51" transform="rotate(2.75 1020.1 476.2)"/>
<ellipse cx="1020.1" cy="475.8" rx="166" ry="76.8" fill="#6d994f" transform="rotate(2.74 1020.1 475.8)"/>
<ellipse cx="1020" cy="475.4" rx="156.2" ry="72.3" fill="#6c984e" transform="rotate(2.74 1020 475.4)"/>
<ellipse cx="1019.9" cy="475" rx="146.4" ry="67.7" fill="#6a964c" transform="rotate(2.74 1019.9 475)"/>
<ellipse cx="1019.9" cy="474.6" rx="136.6" ry="63.2" fill="#68954a" transform="rotate(2.74 1019.9 474.6)"/>
<ellipse cx="1019.8" cy="474.3" rx="126.9" ry="58.7" fill="#679449" transform="rotate(2.74 1019.8 474.3)"/>
<ellipse cx="1019.7" cy="474" rx="117.1" ry="54.2" fill="#659247" transform="rotate(2.74 1019.7 474)"/>
<ellipse cx="1019.7" cy="473.7" rx="107.3" ry="49.6" fill="#649146" transform="rotate(2.74 1019.7 473.7)"/>
<ellipse cx="1019.6" cy="473.4" rx="97.6" ry="45.1" fill="#628f44" transform="rotate(2.74 1019.6 473.4)"/>
<ellipse cx="1019.6" cy="473.2" rx="87.8" ry="40.6" fill="#618e43" transform="rotate(2.74 1019.6 473.2)"/>
<ellipse cx="1019.6" cy="473" rx="78" ry="36.1" fill="#5f8d41" transform="rotate(2.74 1019.6 473)"/>
<ellipse cx="1019.5" cy="472.8" rx="68.3" ry="31.6" fill="#5e8b3f" transform="rotate(2.74 1019.5 472.8)"/>
<ellipse cx="1019.5" cy="472.6" rx="58.5" ry="27.1" fill="#5c8a3e" transform="rotate(2.74 1019.5 472.6)"/>
<ellipse cx="1019.5" cy="472.5" rx="48.8" ry="22.5" fill="#5b883c" transform="rotate(2.74 1019.5 472.5)"/>
<ellipse cx="1019.5" cy="472.4" rx="39" ry="18" fill="#59873b" transform="rotate(2.74 1019.5 472.4)"/>
<ellipse cx="1019.4" cy="472.3" rx="29.3" ry="13.5" fill="#588639" transform="rotate(2.74 1019.4 472.3)"/>
<ellipse cx="1019.4" cy="472.2" rx="19.5" ry="9" fill="#568437" transform="rotate(2.74 1019.4 472.2)"/>
<ellipse cx="1019.4" cy="472.2" rx="9.8" ry="4.5" fill="#558336" transform="rotate(2.74 1019.4 472.2)"/>
</g>
<g mask="url(#cb)">
<rect x="100" y="200" width="1300" height="640" fill="#d9e3f3"/>
<ellipse cx="437.7" cy="523.2" rx="650" ry="304.6" fill="#d8e2f2" transform="rotate(-2.84 437.7 523.2)"/>
<ellipse cx="437.8" cy="522.7" rx="647.5" ry="303.4" fill="#d6e1f2" transform="rotate(-2.83 437.8 522.7)"/>
<ellipse cx="437.8" cy="522.3" rx="645.1" ry="302.3" fill="#d5e0f2" transform="rotate(-2.83 437.8 522.3)"/>
<ellipse cx="437.9" cy="521.9" rx="642.7" ry="301.1" fill="#d3dff2" transform="rotate(-2.83 437.9 521.9)"/>
<ellipse cx="438" cy="521.5" rx="640.3" ry="299.9" fill="#d1def1" transform="rotate(-2.83 438 521.5)"/>
<ellipse cx="438.1" cy="521.1" rx="637.9" ry="298.8" fill="#d0def1" transform="rotate(-2.83 438.1 521.1)"/>
<ellipse cx="438.1" cy="520.7" rx="635.5" ry="297.6" fill="#ceddf0" transform="rotate(-2.83 438.1 520.7)"/>
<ellipse cx="438.2" cy="520.3" rx="633" ry="296.4" fill="#cddcf0" transform="rotate(-2.83 438.2 520.3)"/>
<ellipse cx="438.3" cy="519.9" rx="630.6" ry="295.3" fill="#cbdbf0" transform="rotate(-2.83 438.3 519.9)"/>
<ellipse cx="438.3" cy="519.5" rx="628.2" ry="294.1" fill="#cadaf0" transform="rotate(-2.83 438.3 519.5)"/>
<ellipse cx="438.4" cy="519.1" rx="625.8" ry="293" fill="#c8daef" transform="rotate(-2.83 438.4 519.1)"/>
<ellipse cx="438.5" cy="518.7" rx="623.4" ry="291.8" fill="#c6d9ef" transform="rotate(-2.83 438.5 518.7)"/>
<ellipse cx="438.5" cy="518.3" rx="621" ry="290.6" fill="#c5d8ee" transform="rotate(-2.83 438.5 518.3)"/>
<ellipse cx="438.6" cy="518" rx="618.6" ry="289.5" fill="#c3d7ee" transform="rotate(-2.82 438.6 518)"/>
<ellipse cx="438.7" cy="517.6" rx="616.2" ry="288.3" fill="#c2d6ee" transform="rotate(-2.82 438.7 517.6)"/>
<ellipse cx="438.7" cy="517.2" rx="613.7" ry="287.1" fill="#c0d5ee" transform="rotate(-2.82 438.7 517.2)"/>
<ellipse cx="438.8" cy="516.8" rx="611.3" ry="286" fill="#bfd5ed" transform="rotate(-2.82 438.8 516.8)"/>
<ellipse cx="438.9" cy="516.4" rx="608.9" ry="284.8" fill="#bdd4ed" transform="rotate(-2.82 438.9 516.4)"/>
<ellipse cx="438.9" cy="516" rx="606.5" ry="283.7" fill="#bbd3ec" transform="rotate(-2.82 438.9 516)"/>
<ellipse cx="439" cy="515.7" rx="604.1" ry="282.5" fill="#bad2ec" transform="rotate(-2.82 439 515.7)"/>
<ellipse cx="439.1" cy="515.3" rx="601.7" ry="281.4" fill="#b8d1ec" transform="rotate(-2.82 439.1 515.3)"/>
<ellipse cx="439.1" cy="514.9" rx="599.3" ry="280.2" fill="#b7d1ec" transform="rotate(-2.82 439.1 514.9)"/>
<ellipse cx="439.2" cy="514.5" rx="596.9" ry="279.1" fill="#b5d0eb" transform="rotate(-2.82 439.2 514.5)"/>
<ellipse cx="439.3" cy="514.1" rx="594.5" ry="277.9" fill="#b4cfeb" transform="rotate(-2.82 439.3 514.1)"/>
<ellipse cx="439.3" cy="513.8" rx="592.1" ry="276.8" fill="#b2ceea" transform="rotate(-2.82 439.3 513.8)"/>
<ellipse cx="439.4" cy="513.4" rx="589.7" ry="275.6" fill="#b1cdea" transform="rotate(-2.81 439.4 513.4)"/>
<ellipse cx="439.5" cy="513" rx="587.3" ry="274.4" fill="#afccea" transform="rotate(-2.81 439.5 513)"/>
<ellipse cx="439.5" cy="512.7" rx="584.9" ry="273.3" fill="#adccea" transform="rotate(-2.81 439.5 512.7)"/>
<ellipse cx="439.6" cy="512.3" rx="582.5" ry="272.1" fill="#accbe9" transform="rotate(-2.81 439.6 512.3)"/>
<ellipse cx="439.7" cy="511.9" rx="580.1" ry="271" fill="#aacae9" transform="rotate(-2.81 439.7 511.9)"/>
<ellipse cx="439.7" cy="511.6" rx="577.7" ry="269.9" fill="#a9c9e8" transform="rotate(-2.81 439.7 511.6)"/>
<ellipse cx="439.8" cy="511.2" rx="575.3" ry="268.7" fill="#a7c8e8" transform="rotate(-2.81 439.8 511.2)"/>
<ellipse cx="439.8" cy="510.9" rx="572.9" ry="267.6" fill="#a6c8e8" transform="rotate(-2.81 439.8 510.9)"/>
<ellipse cx="439.9" cy="510.5" rx="570.5" ry="266.4" fill="#a4c7e8" transform="rotate(-2.81 439.9 510.5)"/>
<ellipse cx="440" cy="510.1" rx="568.1" ry="265.3" fill="#a2c6e7" transform="rotate(-2.81 440 510.1)"/>
<ellipse cx="440" cy="509.8" rx="565.7" ry="264.1" fill="#a1c5e7" transform="rotate(-2.81 440 509.8)"/>
<ellipse cx="440.1" cy="509.4" rx="563.3" ry="263" fill="#9fc4e6" transform="rotate(-2.81 440.1 509.4)"/>
<ellipse cx="440.1" cy="509.1" rx="561" ry="261.8" fill="#9ec3e6" transform="rotate(-2.81 440.1 509.1)"/>
<ellipse cx="440.2" cy="508.7" rx="558.6" ry="260.7" fill="#9cc3e6" transform="rotate(-2.81 440.2 508.7)"/>
<ellipse cx="440.4" cy="507.9" rx="552.8" ry="257.9" fill="#9bc3e6" transform="rotate(-2.80 440.4 507.9)"/>
<ellipse cx="440.5" cy="507.1" rx="547" ry="255.2" fill="#99c2e6" transform="rotate(-2.80 440.5 507.1)"/>
<ellipse cx="440.6" cy="506.3" rx="541.2" ry="252.4" fill="#97c2e6" transform="rotate(-2.80 440.6 506.3)"/>
<ellipse cx="440.8" cy="505.4" rx="535.5" ry="249.7" fill="#96c2e6" transform="rotate(-2.80 440.8 505.4)"/>
<ellipse cx="440.9" cy="504.6" rx="529.7" ry="246.9" fill="#94c2e6" transform="rotate(-2.80 440.9 504.6)"/>
<ellipse cx="441.1" cy="503.8" rx="523.9" ry="244.2" fill="#93c2e7" transform="rotate(-2.79 441.1 503.8)"/>
<ellipse cx="441.2" cy="503.1" rx="518.2" ry="241.4" fill="#91c1e7" transform="rotate(-2.79 441.2 503.1)"/>
<ellipse cx="441.3" cy="502.3" rx="512.4" ry="238.7" fill="#90c1e7" transform="rotate(-2.79 441.3 502.3)"/>
<ellipse cx="441.5" cy="501.5" rx="506.7" ry="236" fill="#8ec1e7" transform="rotate(-2.79 441.5 501.5)"/>
<ellipse cx="441.6" cy="500.8" rx="500.9" ry="233.3" fill="#8cc1e7" transform="rotate(-2.79 441.6 500.8)"/>
<ellipse cx="441.7" cy="500" rx="495.2" ry="230.5" fill="#8bc1e7" transform="rotate(-2.79 441.7 500)"/>
<ellipse cx="441.9" cy="499.3" rx="489.5" ry="227.8" fill="#89c0e7" transform="rotate(-2.79 441.9 499.3)"/>
<ellipse cx="442" cy="498.6" rx="483.7" ry="225.1" fill="#88c0e7" transform="rotate(-2.78 442 498.6)"/>
<ellipse cx="442.1" cy="497.8" rx="478" ry="222.4" fill="#86c0e7" transform="rotate(-2.78 442.1 497.8)"/>
<ellipse cx="442.2" cy="497.1" rx="472.3" ry="219.7" fill="#84c0e7" transform="rotate(-2.78 442.2 497.1)"/>
<ellipse cx="442.4" cy="496.4" rx="466.6" ry="217" fill="#83c0e8" transform="rotate(-2.78 442.4 496.4)"/>
<ellipse cx="442.5" cy="495.7" rx="460.8" ry="214.3" fill="#81bfe8" transform="rotate(-2.78 442.5 495.7)"/>
<ellipse cx="442.6" cy="495.1" rx="455.1" ry="211.6" fill="#80bfe8" transform="rotate(-2.78 442.6 495.1)"/>
<ellipse cx="442.7" cy="494.4" rx="449.4" ry="208.9" fill="#7ebfe8" transform="rotate(-2.77 442.7 494.4)"/>
<ellipse cx="442.8" cy="493.7" rx="443.7" ry="206.2" fill="#7cbfe8" transform="rotate(-2.77 442.8 493.7)"/>
<ellipse cx="442.9" cy="493.1" rx="438" ry="203.5" fill="#7bbee8" transform="rotate(-2.77 442.9 493.1)"/>
<ellipse cx="443.1" cy="492.4" rx="432.3" ry="200.8" fill="#79bee8" transform="rotate(-2.77 443.1 492.4)"/>
<ellipse cx="443.2" cy="491.8" rx="426.6" ry="198.1" fill="#78bee8" transform="rotate(-2.77 443.2 491.8)"/>
<ellipse cx="443.3" cy="491.1" rx="420.9" ry="195.4" fill="#76bee8" transform="rotate(-2.77 443.3 491.1)"/>
<ellipse cx="443.4" cy="490.5" rx="415.2" ry="192.8" fill="#75bee8" transform="rotate(-2.77 443.4 490.5)"/>
<ellipse cx="443.5" cy="489.9" rx="409.5" ry="190.1" fill="#73bde8" transform="rotate(-2.77 443.5 489.9)"/>
<ellipse cx="443.6" cy="489.3" rx="403.9" ry="187.4" fill="#71bde8" transform="rotate(-2.76 443.6 489.3)"/>
<ellipse cx="443.7" cy="488.7" rx="398.2" ry="184.7" fill="#70bde9" transform="rotate(-2.76 443.7 488.7)"/>
<ellipse cx="443.8" cy="488.1" rx="392.5" ry="182.1" fill="#6ebde9" transform="rotate(-2.76 443.8 488.1)"/>
<ellipse cx="443.9" cy="487.5" rx="386.8" ry="179.4" fill="#6dbde9" transform="rotate(-2.76 443.9 487.5)"/>
<ellipse cx="444" cy="487" rx="381.1" ry="176.8" fill="#6bbce9" transform="rotate(-2.76 444 487)"/>
<ellipse cx="444.1" cy="486.4" rx="375.5" ry="174.1" fill="#69bce9" transform="rotate(-2.76 444.1 486.4)"/>
<ellipse cx="444.2" cy="485.9" rx="369.8" ry="171.4" fill="#68bce9" transform="rotate(-2.76 444.2 485.9)"/>
<ellipse cx="444.3" cy="485.3" rx="364.1" ry="168.8" fill="#66bce9" transform="rotate(-2.76 444.3 485.3)"/>
<ellipse cx="444.4" cy="484.8" rx="358.5" ry="166.1" fill="#65bbe9" transform="rotate(-2.75 444.4 484.8)"/>
<ellipse cx="444.5" cy="484.3" rx="352.8" ry="163.5" fill="#63bbe9" transform="rotate(-2.75 444.5 484.3)"/>
<ellipse cx="444.6" cy="483.7" rx="347.2" ry="160.9" fill="#62bbe9" transform="rotate(-2.75 444.6 483.7)"/>
<ellipse cx="444.6" cy="483.2" rx="341.5" ry="158.2" fill="#60bbea" transform="rotate(-2.75 444.6 483.2)"/>
<ellipse cx="444.7" cy="482.7" rx="335.9" ry="155.6" fill="#5ebbea" transform="rotate(-2.75 444.7 482.7)"/>
<ellipse cx="444.8" cy="482.2" rx="330.2" ry="152.9" fill="#5dbaea" transform="rotate(-2.75 444.8 482.2)"/>
<ellipse cx="444.9" cy="481.8" rx="324.6" ry="150.3" fill="#5bbaea" transform="rotate(-2.75 444.9 481.8)"/>
<ellipse cx="445" cy="481.3" rx="318.9" ry="147.7" fill="#5abaea" transform="rotate(-2.75 445 481.3)"/>
<ellipse cx="445.1" cy="480.8" rx="313.3" ry="145" fill="#58baea" transform="rotate(-2.75 445.1 480.8)"/>
<ellipse cx="445.1" cy="480.4" rx="307.7" ry="142.4" fill="#56baea" transform="rotate(-2.75 445.1 480.4)"/>
<ellipse cx="445.2" cy="479.9" rx="302" ry="139.8" fill="#55b9ea" transform="rotate(-2.74 445.2 479.9)"/>
<ellipse cx="445.3" cy="479.5" rx="296.4" ry="137.1" fill="#53b9ea" transform="rotate(-2.74 445.3 479.5)"/>
<ellipse cx="445.4" cy="479" rx="290.8" ry="134.5" fill="#52b9ea" transform="rotate(-2.74 445.4 479)"/>
<ellipse cx="445.5" cy="478.6" rx="285.1" ry="131.9" fill="#50b9ea" transform="rotate(-2.74 445.5 478.6)"/>
<ellipse cx="445.5" cy="478.2" rx="279.5" ry="129.3" fill="#4fb8ea" transform="rotate(-2.74 445.5 478.2)"/>
<ellipse cx="445.6" cy="477.8" rx="273.9" ry="126.7" fill="#4db8eb" transform="rotate(-2.74 445.6 477.8)"/>
<ellipse cx="445.7" cy="477.4" rx="268.3" ry="124.1" fill="#4bb8eb" transform="rotate(-2.74 445.7 477.4)"/>
<ellipse cx="445.7" cy="477" rx="262.6" ry="121.4" fill="#4ab8eb" transform="rotate(-2.74 445.7 477)"/>
<ellipse cx="445.8" cy="476.6" rx="257" ry="118.8" fill="#48b8eb" transform="rotate(-2.74 445.8 476.6)"/>
<ellipse cx="445.9" cy="476.3" rx="251.4" ry="116.2" fill="#47b7eb" transform="rotate(-2.74 445.9 476.3)"/>
<ellipse cx="445.9" cy="475.9" rx="245.8" ry="113.6" fill="#45b7eb" transform="rotate(-2.74 445.9 475.9)"/>
<ellipse cx="446" cy="475.5" rx="240.2" ry="111" fill="#43b7eb" transform="rotate(-2.74 446 475.5)"/>
<ellipse cx="446" cy="475.2" rx="234.6" ry="108.4" fill="#42b7eb" transform="rotate(-2.73 446 475.2)"/>
<ellipse cx="446.1" cy="474.8" rx="229" ry="105.8" fill="#40b7eb" transform="rotate(-2.73 446.1 474.8)"/>
<ellipse cx="446.2" cy="474.5" rx="223.4" ry="103.2" fill="#3fb6eb" transform="rotate(-2.73 446.2 474.5)"/>
<ellipse cx="446.2" cy="474.2" rx="217.7" ry="100.6" fill="#3db6ec" transform="rotate(-2.73 446.2 474.2)"/>
<ellipse cx="446.3" cy="473.9" rx="212.1" ry="98" fill="#3bb6ec" transform="rotate(-2.73 446.3 473.9)"/>
<ellipse cx="446.3" cy="473.6" rx="206.5" ry="95.4" fill="#3ab6ec" transform="rotate(-2.73 446.3 473.6)"/>
<ellipse cx="446.4" cy="473.3" rx="200.9" ry="92.8" fill="#38b6ec" transform="rotate(-2.73 446.4 473.3)"/>
<ellipse cx="446.4" cy="473" rx="195.3" ry="90.2" fill="#37b5ec" transform="rotate(-2.73 446.4 473)"/>
<ellipse cx="446.5" cy="472.7" rx="189.7" ry="87.6" fill="#35b5ec" transform="rotate(-2.73 446.5 472.7)"/>
<ellipse cx="446.5" cy="472.4" rx="184.1" ry="85" fill="#34b5ec" transform="rotate(-2.73 446.5 472.4)"/>
<ellipse cx="446.6" cy="472.2" rx="178.6" ry="82.4" fill="#32b5ec" transform="rotate(-2.73 446.6 472.2)"/>
<ellipse cx="446.6" cy="471.9" rx="173" ry="79.9" fill="#30b4ec" transform="rotate(-2.73 446.6 471.9)"/>
<ellipse cx="446.7" cy="471.7" rx="167.4" ry="77.3" fill="#2fb4ec" transform="rotate(-2.73 446.7 471.7)"/>
<ellipse cx="446.7" cy="471.4" rx="161.8" ry="74.7" fill="#2db4ec" transform="rotate(-2.73 446.7 471.4)"/>
<ellipse cx="446.7" cy="471.2" rx="156.2" ry="72.1" fill="#2cb4ec" transform="rotate(-2.73 446.7 471.2)"/>
<ellipse cx="446.8" cy="471" rx="150.6" ry="69.5" fill="#2ab4ed" transform="rotate(-2.73 446.8 471)"/>
<ellipse cx="446.8" cy="470.7" rx="145" ry="66.9" fill="#28b3ed" transform="rotate(-2.73 446.8 470.7)"/>
<ellipse cx="446.9" cy="470.5" rx="139.4" ry="64.3" fill="#27b3ed" transform="rotate(-2.72 446.9 470.5)"/>
<ellipse cx="446.9" cy="470.3" rx="133.8" ry="61.8" fill="#25b3ed" transform="rotate(-2.72 446.9 470.3)"/>
<ellipse cx="446.9" cy="470.1" rx="128.3" ry="59.2" fill="#24b3ed" transform="rotate(-2.72 446.9 470.1)"/>
<ellipse cx="447" cy="470" rx="122.7" ry="56.6" fill="#22b3ed" transform="rotate(-2.72 447 470)"/>
<ellipse cx="447" cy="469.8" rx="117.1" ry="54" fill="#21b2ed" transform="rotate(-2.72 447 469.8)"/>
<ellipse cx="447" cy="469.6" rx="111.5" ry="51.4" fill="#1fb2ed" transform="rotate(-2.72 447 469.6)"/>
<ellipse cx="447" cy="469.5" rx="105.9" ry="48.9" fill="#1db2ed" transform="rotate(-2.72 447 469.5)"/>
<ellipse cx="447.1" cy="469.3" rx="100.3" ry="46.3" fill="#1cb2ed" transform="rotate(-2.72 447.1 469.3)"/>
<ellipse cx="447.1" cy="469.2" rx="94.8" ry="43.7" fill="#1ab2ee" transform="rotate(-2.72 447.1 469.2)"/>
<ellipse cx="447.1" cy="469" rx="89.2" ry="41.1" fill="#19b1ee" transform="rotate(-2.72 447.1 469)"/>
<ellipse cx="447.1" cy="468.9" rx="83.6" ry="38.6" fill="#17b1ee" transform="rotate(-2.72 447.1 468.9)"/>
<ellipse cx="447.2" cy="468.8" rx="78" ry="36" fill="#15b1ee" transform="rotate(-2.72 447.2 468.8)"/>
<ellipse cx="447.2" cy="468.7" rx="72.5" ry="33.4" fill="#14b1ee" transform="rotate(-2.72 447.2 468.7)"/>
<ellipse cx="447.2" cy="468.6" rx="66.9" ry="30.8" fill="#12b0ee" transform="rotate(-2.72 447.2 468.6)"/>
<ellipse cx="447.2" cy="468.5" rx="61.3" ry="28.3" fill="#11b0ee" transform="rotate(-2.72 447.2 468.5)"/>
<ellipse cx="447.2" cy="468.4" rx="55.7" ry="25.7" fill="#0fb0ee" transform="rotate(-2.72 447.2 468.4)"/>
<ellipse cx="447.2" cy="468.3" rx="50.2" ry="23.1" fill="#0db0ee" transform="rotate(-2.72 447.2 468.3)"/>
<ellipse cx="447.3" cy="468.3" rx="44.6" ry="20.6" fill="#0cb0ee" transform="rotate(-2.72 447.3 468.3)"/>
<ellipse cx="447.3" cy="468.2" rx="39" ry="18" fill="#0aafee" transform="rotate(-2.72 447.3 468.2)"/>
<ellipse cx="447.3" cy="468.1" rx="33.4" ry="15.4" fill="#09afee" transform="rotate(-2.72 447.3 468.1)"/>
<ellipse cx="447.3" cy="468.1" rx="27.9" ry="12.9" fill="#07afef" transform="rotate(-2.72 447.3 468.1)"/>
<ellipse cx="447.3" cy="468.1" rx="22.3" ry="10.3" fill="#06afef" transform="rotate(-2.72 447.3 468.1)"/>
<ellipse cx="447.3" cy="468" rx="16.7" ry="7.7" fill="#04afef" transform="rotate(-2.72 447.3 468)"/>
<ellipse cx="447.3" cy="468" rx="11.1" ry="5.1" fill="#02aeef" transform="rotate(-2.72 447.3 468)"/>
<ellipse cx="447.3" cy="468" rx="5.6" ry="2.6" fill="#01aeef" transform="rotate(-2.72 447.3 468)"/>
</g>
<g mask="url(#cy)">
<rect x="100" y="200" width="1300" height="640" fill="#fdf0c7"/>
<ellipse cx="799.1" cy="354" rx="270.9" ry="116.8" fill="#fdefc6" transform="rotate(0.57 799.1 354)"/>
<ellipse cx="799.1" cy="353.9" rx="268.5" ry="115.8" fill="#fdefc4" transform="rotate(0.57 799.1 353.9)"/>
<ellipse cx="799.1" cy="353.7" rx="266.2" ry="114.8" fill="#fdefc2" transform="rotate(0.57 799.1 353.7)"/>
<ellipse cx="799.1" cy="353.6" rx="263.8" ry="113.7" fill="#fdeec1" transform="rotate(0.57 799.1 353.6)"/>
<ellipse cx="799.1" cy="353.4" rx="261.4" ry="112.7" fill="#fdeebf" transform="rotate(0.57 799.1 353.4)"/>
<ellipse cx="799.1" cy="353.3" rx="259.1" ry="111.7" fill="#fdeebe" transform="rotate(0.57 799.1 353.3)"/>
<ellipse cx="799.1" cy="353.1" rx="256.7" ry="110.7" fill="#fdedbc" transform="rotate(0.57 799.1 353.1)"/>
<ellipse cx="799.1" cy="353" rx="254.3" ry="109.7" fill="#fdedba" transform="rotate(0.57 799.1 353)"/>
<ellipse cx="799.1" cy="352.8" rx="252" ry="108.6" fill="#fdecb9" transform="rotate(0.57 799.1 352.8)"/>
<ellipse cx="799.1" cy="352.7" rx="249.6" ry="107.6" fill="#fdecb7" transform="rotate(0.57 799.1 352.7)"/>
<ellipse cx="799.1" cy="352.5" rx="247.3" ry="106.6" fill="#fdecb6" transform="rotate(0.57 799.1 352.5)"/>
<ellipse cx="799" cy="352.4" rx="244.9" ry="105.6" fill="#fdebb4" transform="rotate(0.57 799 352.4)"/>
<ellipse cx="799" cy="352.3" rx="242.6" ry="104.5" fill="#fdebb2" transform="rotate(0.57 799 352.3)"/>
<ellipse cx="799" cy="352.1" rx="240.2" ry="103.5" fill="#fdebb1" transform="rotate(0.57 799 352.1)"/>
<ellipse cx="799" cy="352" rx="237.8" ry="102.5" fill="#fdeaaf" transform="rotate(0.57 799 352)"/>
<ellipse cx="799" cy="351.8" rx="235.5" ry="101.5" fill="#fdeaae" transform="rotate(0.57 799 351.8)"/>
<ellipse cx="799" cy="351.7" rx="233.1" ry="100.5" fill="#fde9ac" transform="rotate(0.57 799 351.7)"/>
<ellipse cx="799" cy="351.6" rx="230.8" ry="99.4" fill="#fde9ab" transform="rotate(0.57 799 351.6)"/>
<ellipse cx="799" cy="351.4" rx="228.4" ry="98.4" fill="#fde9a9" transform="rotate(0.57 799 351.4)"/>
<ellipse cx="799" cy="351.3" rx="226.1" ry="97.4" fill="#fde8a7" transform="rotate(0.57 799 351.3)"/>
<ellipse cx="799" cy="351.2" rx="223.7" ry="96.4" fill="#fde8a6" transform="rotate(0.57 799 351.2)"/>
<ellipse cx="799" cy="351.1" rx="221.4" ry="95.4" fill="#fde8a4" transform="rotate(0.57 799 351.1)"/>
<ellipse cx="799" cy="350.9" rx="219" ry="94.4" fill="#fde7a3" transform="rotate(0.57 799 350.9)"/>
<ellipse cx="799" cy="350.8" rx="216.6" ry="93.3" fill="#fde7a1" transform="rotate(0.57 799 350.8)"/>
<ellipse cx="799" cy="350.7" rx="214.3" ry="92.3" fill="#fde69f" transform="rotate(0.57 799 350.7)"/>
<ellipse cx="799" cy="350.6" rx="211.9" ry="91.3" fill="#fde69e" transform="rotate(0.57 799 350.6)"/>
<ellipse cx="799" cy="350.4" rx="209.6" ry="90.3" fill="#fde69c" transform="rotate(0.57 799 350.4)"/>
<ellipse cx="799" cy="350.3" rx="207.2" ry="89.3" fill="#fde59b" transform="rotate(0.57 799 350.3)"/>
<ellipse cx="799" cy="350.2" rx="204.9" ry="88.2" fill="#fde599" transform="rotate(0.57 799 350.2)"/>
<ellipse cx="798.9" cy="350.1" rx="202.5" ry="87.2" fill="#fde597" transform="rotate(0.57 798.9 350.1)"/>
<ellipse cx="798.9" cy="350" rx="200.2" ry="86.2" fill="#fde496" transform="rotate(0.56 798.9 350)"/>
<ellipse cx="798.9" cy="349.9" rx="197.8" ry="85.2" fill="#fce494" transform="rotate(0.56 798.9 349.9)"/>
<ellipse cx="798.9" cy="349.7" rx="195.5" ry="84.2" fill="#fce393" transform="rotate(0.56 798.9 349.7)"/>
<ellipse cx="798.9" cy="349.6" rx="193.1" ry="83.2" fill="#fce391" transform="rotate(0.56 798.9 349.6)"/>
<ellipse cx="798.9" cy="349.5" rx="190.8" ry="82.1" fill="#fce38f" transform="rotate(0.56 798.9 349.5)"/>
<ellipse cx="798.9" cy="349.4" rx="188.4" ry="81.1" fill="#fce28e" transform="rotate(0.56 798.9 349.4)"/>
<ellipse cx="798.9" cy="349.3" rx="186.1" ry="80.1" fill="#fce28c" transform="rotate(0.56 798.9 349.3)"/>
<ellipse cx="798.9" cy="349.2" rx="183.7" ry="79.1" fill="#fce28b" transform="rotate(0.56 798.9 349.2)"/>
<ellipse cx="798.9" cy="349.1" rx="181.4" ry="78.1" fill="#fce189" transform="rotate(0.56 798.9 349.1)"/>
<ellipse cx="798.9" cy="349" rx="179" ry="77.1" fill="#fce187" transform="rotate(0.56 798.9 349)"/>
<ellipse cx="798.9" cy="348.9" rx="176.7" ry="76.1" fill="#fce086" transform="rotate(0.56 798.9 348.9)"/>
<ellipse cx="798.9" cy="348.8" rx="174.3" ry="75" fill="#fce084" transform="rotate(0.56 798.9 348.8)"/>
<ellipse cx="798.9" cy="348.7" rx="172" ry="74" fill="#fce083" transform="rotate(0.56 798.9 348.7)"/>
<ellipse cx="798.9" cy="348.6" rx="169.6" ry="73" fill="#fcdf81" transform="rotate(0.56 798.9 348.6)"/>
<ellipse cx="798.9" cy="348.5" rx="167.3" ry="72" fill="#fcdf7f" transform="rotate(0.56 798.9 348.5)"/>
<ellipse cx="798.9" cy="348.4" rx="164.9" ry="71" fill="#fcdf7e" transform="rotate(0.56 798.9 348.4)"/>
<ellipse cx="798.9" cy="348.3" rx="162.6" ry="70" fill="#fcde7c" transform="rotate(0.56 798.9 348.3)"/>
<ellipse cx="798.9" cy="348.2" rx="160.2" ry="69" fill="#fcde7b" transform="rotate(0.56 798.9 348.2)"/>
<ellipse cx="798.9" cy="348.1" rx="157.9" ry="68" fill="#fcdd79" transform="rotate(0.56 798.9 348.1)"/>
<ellipse cx="798.9" cy="348" rx="155.5" ry="66.9" fill="#fcdd78" transform="rotate(0.56 798.9 348)"/>
<ellipse cx="798.9" cy="348" rx="153.2" ry="65.9" fill="#fcdd76" transform="rotate(0.56 798.9 348)"/>
<ellipse cx="798.9" cy="347.9" rx="150.8" ry="64.9" fill="#fcdc74" transform="rotate(0.56 798.9 347.9)"/>
<ellipse cx="798.8" cy="347.8" rx="148.5" ry="63.9" fill="#fcdc73" transform="rotate(0.56 798.8 347.8)"/>
<ellipse cx="798.8" cy="347.7" rx="146.1" ry="62.9" fill="#fcdc71" transform="rotate(0.56 798.8 347.7)"/>
<ellipse cx="798.8" cy="347.6" rx="143.8" ry="61.9" fill="#fcdb70" transform="rotate(0.56 798.8 347.6)"/>
<ellipse cx="798.8" cy="347.5" rx="141.4" ry="60.9" fill="#fcdb6e" transform="rotate(0.56 798.8 347.5)"/>
<ellipse cx="798.8" cy="347.5" rx="139.1" ry="59.9" fill="#fcda6c" transform="rotate(0.56 798.8 347.5)"/>
<ellipse cx="798.8" cy="347.4" rx="136.7" ry="58.8" fill="#fcda6b" transform="rotate(0.56 798.8 347.4)"/>
<ellipse cx="798.8" cy="347.3" rx="134.4" ry="57.8" fill="#fcda69" transform="rotate(0.56 798.8 347.3)"/>
<ellipse cx="798.8" cy="347.2" rx="132" ry="56.8" fill="#fcd968" transform="rotate(0.56 798.8 347.2)"/>
<ellipse cx="798.8" cy="347.1" rx="129.7" ry="55.8" fill="#fcd966" transform="rotate(0.56 798.8 347.1)"/>
<ellipse cx="798.8" cy="347.1" rx="127.4" ry="54.8" fill="#fcd964" transform="rotate(0.56 798.8 347.1)"/>
<ellipse cx="798.8" cy="347" rx="125" ry="53.8" fill="#fcd863" transform="rotate(0.56 798.8 347)"/>
<ellipse cx="798.8" cy="346.9" rx="122.7" ry="52.8" fill="#fcd861" transform="rotate(0.56 798.8 346.9)"/>
<ellipse cx="798.8" cy="346.9" rx="120.4" ry="51.8" fill="#fcd760" transform="rotate(0.56 798.8 346.9)"/>
<ellipse cx="798.8" cy="346.8" rx="118.1" ry="50.8" fill="#fcd75e" transform="rotate(0.56 798.8 346.8)"/>
<ellipse cx="798.8" cy="346.7" rx="115.8" ry="49.8" fill="#fcd65c" transform="rotate(0.56 798.8 346.7)"/>
<ellipse cx="798.8" cy="346.7" rx="113.6" ry="48.9" fill="#fcd65b" transform="rotate(0.56 798.8 346.7)"/>
<ellipse cx="798.8" cy="346.6" rx="111.3" ry="47.9" fill="#fcd659" transform="rotate(0.56 798.8 346.6)"/>
<ellipse cx="798.8" cy="346.5" rx="109" ry="46.9" fill="#fcd558" transform="rotate(0.56 798.8 346.5)"/>
<ellipse cx="798.8" cy="346.5" rx="106.7" ry="45.9" fill="#fcd556" transform="rotate(0.56 798.8 346.5)"/>
<ellipse cx="798.8" cy="346.4" rx="104.5" ry="44.9" fill="#fcd454" transform="rotate(0.56 798.8 346.4)"/>
<ellipse cx="798.8" cy="346.4" rx="102.2" ry="44" fill="#fcd453" transform="rotate(0.56 798.8 346.4)"/>
<ellipse cx="798.8" cy="346.3" rx="99.9" ry="43" fill="#fcd351" transform="rotate(0.56 798.8 346.3)"/>
<ellipse cx="798.8" cy="346.3" rx="97.7" ry="42" fill="#fcd350" transform="rotate(0.56 798.8 346.3)"/>
<ellipse cx="798.8" cy="346.2" rx="95.4" ry="41" fill="#fcd24e" transform="rotate(0.56 798.8 346.2)"/>
<ellipse cx="798.8" cy="346.2" rx="93.1" ry="40.1" fill="#fcd24c" transform="rotate(0.56 798.8 346.2)"/>
<ellipse cx="798.8" cy="346.1" rx="90.8" ry="39.1" fill="#fcd24b" transform="rotate(0.56 798.8 346.1)"/>
<ellipse cx="798.8" cy="346" rx="88.6" ry="38.1" fill="#fcd149" transform="rotate(0.56 798.8 346)"/>
<ellipse cx="798.8" cy="346" rx="86.3" ry="37.1" fill="#fcd148" transform="rotate(0.56 798.8 346)"/>
<ellipse cx="798.8" cy="346" rx="84" ry="36.1" fill="#fcd046" transform="rotate(0.56 798.8 346)"/>
<ellipse cx="798.8" cy="345.9" rx="81.7" ry="35.2" fill="#fcd045" transform="rotate(0.56 798.8 345.9)"/>
<ellipse cx="798.8" cy="345.9" rx="79.5" ry="34.2" fill="#fccf43" transform="rotate(0.56 798.8 345.9)"/>
<ellipse cx="798.8" cy="345.8" rx="77.2" ry="33.2" fill="#fccf41" transform="rotate(0.56 798.8 345.8)"/>
<ellipse cx="798.8" cy="345.8" rx="74.9" ry="32.2" fill="#fcce40" transform="rotate(0.56 798.8 345.8)"/>
<ellipse cx="798.8" cy="345.7" rx="72.7" ry="31.3" fill="#fcce3e" transform="rotate(0.56 798.8 345.7)"/>
<ellipse cx="798.8" cy="345.7" rx="70.4" ry="30.3" fill="#fcce3d" transform="rotate(0.56 798.8 345.7)"/>
<ellipse cx="798.8" cy="345.7" rx="68.1" ry="29.3" fill="#fccd3b" transform="rotate(0.56 798.8 345.7)"/>
<ellipse cx="798.8" cy="345.6" rx="65.8" ry="28.3" fill="#fccd39" transform="rotate(0.56 798.8 345.6)"/>
<ellipse cx="798.8" cy="345.6" rx="63.6" ry="27.3" fill="#fccc38" transform="rotate(0.56 798.8 345.6)"/>
<ellipse cx="798.8" cy="345.6" rx="61.3" ry="26.4" fill="#fbcc36" transform="rotate(0.56 798.8 345.6)"/>
<ellipse cx="798.8" cy="345.5" rx="59" ry="25.4" fill="#fbcb35" transform="rotate(0.56 798.8 345.5)"/>
<ellipse cx="798.7" cy="345.5" rx="56.8" ry="24.4" fill="#fbcb33" transform="rotate(0.56 798.7 345.5)"/>
<ellipse cx="798.7" cy="345.5" rx="54.5" ry="23.4" fill="#fbca31" transform="rotate(0.56 798.7 345.5)"/>
<ellipse cx="798.7" cy="345.4" rx="52.2" ry="22.5" fill="#fbca30" transform="rotate(0.56 798.7 345.4)"/>
<ellipse cx="798.7" cy="345.4" rx="49.9" ry="21.5" fill="#fbca2e" transform="rotate(0.56 798.7 345.4)"/>
<ellipse cx="798.7" cy="345.4" rx="47.7" ry="20.5" fill="#fbc92d" transform="rotate(0.56 798.7 345.4)"/>
<ellipse cx="798.7" cy="345.3" rx="45.4" ry="19.5" fill="#fbc92b" transform="rotate(0.56 798.7 345.3)"/>
<ellipse cx="798.7" cy="345.3" rx="43.1" ry="18.6" fill="#fbc829" transform="rotate(0.56 798.7 345.3)"/>
<ellipse cx="798.7" cy="345.3" rx="40.9" ry="17.6" fill="#fbc828" transform="rotate(0.56 798.7 345.3)"/>
<ellipse cx="798.7" cy="345.3" rx="38.6" ry="16.6" fill="#fbc726" transform="rotate(0.56 798.7 345.3)"/>
<ellipse cx="798.7" cy="345.3" rx="36.3" ry="15.6" fill="#fbc725" transform="rotate(0.56 798.7 345.3)"/>
<ellipse cx="798.7" cy="345.2" rx="34.1" ry="14.6" fill="#fbc623" transform="rotate(0.56 798.7 345.2)"/>
<ellipse cx="798.7" cy="345.2" rx="31.8" ry="13.7" fill="#fbc622" transform="rotate(0.56 798.7 345.2)"/>
<ellipse cx="798.7" cy="345.2" rx="29.5" ry="12.7" fill="#fbc620" transform="rotate(0.56 798.7 345.2)"/>
<ellipse cx="798.7" cy="345.2" rx="27.2" ry="11.7" fill="#fbc51e" transform="rotate(0.56 798.7 345.2)"/>
<ellipse cx="798.7" cy="345.2" rx="25" ry="10.7" fill="#fbc51d" transform="rotate(0.56 798.7 345.2)"/>
<ellipse cx="798.7" cy="345.2" rx="22.7" ry="9.8" fill="#fbc41b" transform="rotate(0.56 798.7 345.2)"/>
<ellipse cx="798.7" cy="345.1" rx="20.4" ry="8.8" fill="#fbc41a" transform="rotate(0.56 798.7 345.1)"/>
<ellipse cx="798.7" cy="345.1" rx="18.2" ry="7.8" fill="#fbc318" transform="rotate(0.56 798.7 345.1)"/>
<ellipse cx="798.7" cy="345.1" rx="15.9" ry="6.8" fill="#fbc316" transform="rotate(0.56 798.7 345.1)"/>
<ellipse cx="798.7" cy="345.1" rx="13.6" ry="5.9" fill="#fbc215" transform="rotate(0.56 798.7 345.1)"/>
<ellipse cx="798.7" cy="345.1" rx="11.4" ry="4.9" fill="#fbc213" transform="rotate(0.56 798.7 345.1)"/>
<ellipse cx="798.7" cy="345.1" rx="9.1" ry="3.9" fill="#fbc212" transform="rotate(0.56 798.7 345.1)"/>
<ellipse cx="798.7" cy="345.1" rx="6.8" ry="2.9" fill="#fbc110" transform="rotate(0.56 798.7 345.1)"/>
<ellipse cx="798.7" cy="345.1" rx="4.5" ry="2" fill="#fbc10e" transform="rotate(0.56 798.7 345.1)"/>
<ellipse cx="798.7" cy="345.1" rx="2.3" ry="1" fill="#fbc00d" transform="rotate(0.56 798.7 345.1)"/>
</g>
<g font-family="'Liberation Sans', sans-serif" fill="#000" stroke="#000" stroke-width="0.5" filter="url(#ts)"><text x="576.63" y="71.70" font-size="51.5" textLength="65.28" lengthAdjust="spacingAndGlyphs">De</text>
<text x="656.10" y="71.70" font-size="51.5" textLength="176.08" lengthAdjust="spacingAndGlyphs">manera</text>
<text x="848.84" y="71.70" font-size="51.5" textLength="175.55" lengthAdjust="spacingAndGlyphs">general</text>
<text x="1037.89" y="71.70" font-size="51.5" textLength="94.16" lengthAdjust="spacingAndGlyphs">esta</text>
<text x="1149.92" y="71.70" font-size="51.5" textLength="249.49" lengthAdjust="spacingAndGlyphs">modalidad</text>
<text x="1414.19" y="71.70" font-size="51.5" textLength="136.68" lengthAdjust="spacingAndGlyphs">tiene:</text>
<text x="1515.66" y="474.70" font-size="36.6" textLength="244.65" lengthAdjust="spacingAndGlyphs">Prácticamente</text>
<text x="1770.53" y="474.70" font-size="36.6" textLength="44.97" lengthAdjust="spacingAndGlyphs">las</text>
<text x="1825.93" y="474.70" font-size="36.6" textLength="128.44" lengthAdjust="spacingAndGlyphs">mismas</text>
<text x="1963.83" y="474.70" font-size="36.6" textLength="141.01" lengthAdjust="spacingAndGlyphs">ventajas</text>
<text x="1517.14" y="525.10" font-size="36.6" textLength="64.82" lengthAdjust="spacingAndGlyphs">que</text>
<text x="1591.13" y="525.10" font-size="36.6" textLength="256.22" lengthAdjust="spacingAndGlyphs">inconvenientes</text>
<text x="1515.66" y="587.80" font-size="36.6" textLength="72.22" lengthAdjust="spacingAndGlyphs">Más</text>
<text x="1597.33" y="587.80" font-size="36.6" textLength="141.33" lengthAdjust="spacingAndGlyphs">ventajas</text>
<text x="1748.31" y="587.80" font-size="36.6" textLength="65.06" lengthAdjust="spacingAndGlyphs">que</text>
<text x="1822.58" y="587.80" font-size="36.6" textLength="257.18" lengthAdjust="spacingAndGlyphs">inconvenientes</text>
<text x="1515.67" y="701.00" font-size="36.6" textLength="133.57" lengthAdjust="spacingAndGlyphs">Muchas</text>
<text x="1659.59" y="701.00" font-size="36.6" textLength="68.83" lengthAdjust="spacingAndGlyphs">más</text>
<text x="1737.89" y="701.00" font-size="36.6" textLength="140.80" lengthAdjust="spacingAndGlyphs">ventajas</text>
<text x="1888.30" y="701.00" font-size="36.6" textLength="64.82" lengthAdjust="spacingAndGlyphs">que</text>
<text x="1517.20" y="751.90" font-size="36.6" textLength="256.05" lengthAdjust="spacingAndGlyphs">inconvenientes</text></g>
<g font-family="'Liberation Sans', sans-serif" fill="#000" stroke="#000" stroke-width="0.4"><text x="196.12" y="491.80" font-size="60.6" textLength="113.84" lengthAdjust="spacingAndGlyphs">50%</text>
<text x="730.98" y="342.30" font-size="60.6" textLength="80.86" lengthAdjust="spacingAndGlyphs">4%</text>
<text x="1165.65" y="557.00" font-size="60.6" textLength="114.62" lengthAdjust="spacingAndGlyphs">46%</text></g>
<rect x="1482.1" y="451.0" width="23.1" height="22.9" fill="url(#sy)"/>
<rect x="1482.1" y="564.0" width="23.1" height="22.9" fill="url(#sg)"/>
<rect x="1482.1" y="677.1" width="23.1" height="22.9" fill="url(#sbl)"/>
</svg>
</body></html>
